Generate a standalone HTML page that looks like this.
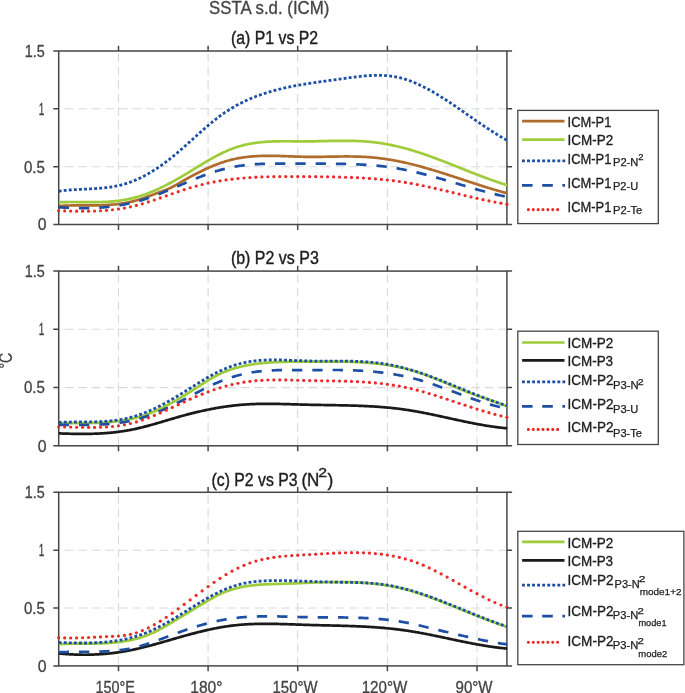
<!DOCTYPE html><html><head><meta charset="utf-8"><style>html,body{margin:0;padding:0;background:#fff;overflow:hidden}</style></head><body><svg width="685" height="693" viewBox="0 0 685 693" style="display:block;will-change:transform;font-family:'Liberation Sans',sans-serif">
<rect width="685" height="693" fill="#fff"/>
<defs><clipPath id="cp0"><rect x="58.7" y="48.0" width="448.7" height="179.5"/></clipPath></defs>
<line x1="118.5" y1="51.0" x2="118.5" y2="224.5" stroke="#d8dada" stroke-width="1.1" stroke-dasharray="8.6 4.9" stroke-dashoffset="-2.5"/>
<line x1="208.1" y1="51.0" x2="208.1" y2="224.5" stroke="#d8dada" stroke-width="1.1" stroke-dasharray="8.6 4.9" stroke-dashoffset="-2.5"/>
<line x1="297.7" y1="51.0" x2="297.7" y2="224.5" stroke="#d8dada" stroke-width="1.1" stroke-dasharray="8.6 4.9" stroke-dashoffset="-2.5"/>
<line x1="387.4" y1="51.0" x2="387.4" y2="224.5" stroke="#d8dada" stroke-width="1.1" stroke-dasharray="8.6 4.9" stroke-dashoffset="-2.5"/>
<line x1="477.0" y1="51.0" x2="477.0" y2="224.5" stroke="#d8dada" stroke-width="1.1" stroke-dasharray="8.6 4.9" stroke-dashoffset="-2.5"/>
<line x1="58.7" y1="166.7" x2="506.9" y2="166.7" stroke="#d8dada" stroke-width="1.1" stroke-dasharray="8.65 4.9" stroke-dashoffset="-6"/>
<line x1="58.7" y1="108.8" x2="506.9" y2="108.8" stroke="#d8dada" stroke-width="1.1" stroke-dasharray="8.65 4.9" stroke-dashoffset="-6"/>
<rect x="58.7" y="51.0" width="448.2" height="173.5" fill="none" stroke="#464646" stroke-width="1.5"/>
<g clip-path="url(#cp0)">
<path d="M58.7,206.00 L59.7,205.93 L60.7,205.86 L61.7,205.80 L62.7,205.75 L63.7,205.70 L64.7,205.65 L65.7,205.61 L66.7,205.57 L67.7,205.54 L68.7,205.51 L69.7,205.49 L70.7,205.46 L71.7,205.45 L72.7,205.43 L73.7,205.42 L74.7,205.40 L75.7,205.40 L76.7,205.39 L77.7,205.38 L78.7,205.38 L79.7,205.38 L80.7,205.38 L81.7,205.38 L82.7,205.38 L83.7,205.38 L84.7,205.38 L85.7,205.38 L86.7,205.38 L87.7,205.38 L88.7,205.38 L89.7,205.38 L90.7,205.38 L91.7,205.38 L92.7,205.37 L93.7,205.36 L94.7,205.36 L95.7,205.34 L96.7,205.33 L97.7,205.32 L98.7,205.30 L99.7,205.27 L100.7,205.25 L101.7,205.22 L102.7,205.19 L103.7,205.15 L104.7,205.11 L105.7,205.06 L106.7,205.01 L107.7,204.96 L108.7,204.90 L109.7,204.83 L110.7,204.76 L111.7,204.69 L112.7,204.61 L113.7,204.52 L114.7,204.42 L115.7,204.32 L116.7,204.21 L117.7,204.10 L118.7,203.97 L119.7,203.84 L120.7,203.70 L121.7,203.56 L122.7,203.40 L123.7,203.24 L124.7,203.07 L125.7,202.89 L126.7,202.70 L127.7,202.50 L128.7,202.29 L129.7,202.08 L130.7,201.85 L131.7,201.61 L132.7,201.36 L133.7,201.10 L134.7,200.84 L135.7,200.56 L136.7,200.27 L137.7,199.98 L138.7,199.67 L139.7,199.36 L140.7,199.04 L141.7,198.72 L142.7,198.38 L143.7,198.04 L144.7,197.70 L145.7,197.35 L146.7,196.99 L147.7,196.63 L148.7,196.27 L149.7,195.90 L150.7,195.53 L151.7,195.15 L152.7,194.77 L153.7,194.39 L154.7,194.01 L155.7,193.63 L156.7,193.24 L157.7,192.86 L158.7,192.50 L159.7,192.14 L160.7,191.78 L161.7,191.42 L162.7,191.06 L163.7,190.70 L164.7,190.33 L165.7,189.95 L166.7,189.55 L167.7,189.14 L168.7,188.71 L169.7,188.26 L170.7,187.78 L171.7,187.29 L172.7,186.78 L173.7,186.25 L174.7,185.70 L175.7,185.15 L176.7,184.58 L177.7,184.01 L178.7,183.43 L179.7,182.85 L180.7,182.27 L181.7,181.69 L182.7,181.11 L183.7,180.53 L184.7,179.96 L185.7,179.39 L186.7,178.83 L187.7,178.27 L188.7,177.71 L189.7,177.16 L190.7,176.62 L191.7,176.07 L192.7,175.54 L193.7,175.01 L194.7,174.48 L195.7,173.96 L196.7,173.44 L197.7,172.93 L198.7,172.43 L199.7,171.93 L200.7,171.43 L201.7,170.94 L202.7,170.46 L203.7,169.99 L204.7,169.52 L205.7,169.05 L206.7,168.60 L207.7,168.15 L208.7,167.70 L209.7,167.27 L210.7,166.84 L211.7,166.42 L212.7,166.00 L213.7,165.59 L214.7,165.19 L215.7,164.80 L216.7,164.42 L217.7,164.04 L218.7,163.67 L219.7,163.31 L220.7,162.96 L221.7,162.62 L222.7,162.28 L223.7,161.96 L224.7,161.64 L225.7,161.33 L226.7,161.03 L227.7,160.74 L228.7,160.46 L229.7,160.19 L230.7,159.92 L231.7,159.67 L232.7,159.43 L233.7,159.20 L234.7,158.97 L235.7,158.76 L236.7,158.55 L237.7,158.36 L238.7,158.17 L239.7,157.99 L240.7,157.82 L241.7,157.66 L242.7,157.51 L243.7,157.36 L244.7,157.22 L245.7,157.09 L246.7,156.97 L247.7,156.85 L248.7,156.75 L249.7,156.64 L250.7,156.55 L251.7,156.46 L252.7,156.38 L253.7,156.30 L254.7,156.24 L255.7,156.17 L256.7,156.12 L257.7,156.06 L258.7,156.02 L259.7,155.98 L260.7,155.94 L261.7,155.91 L262.7,155.88 L263.7,155.86 L264.7,155.84 L265.7,155.83 L266.7,155.82 L267.7,155.82 L268.7,155.82 L269.7,155.82 L270.7,155.82 L271.7,155.83 L272.7,155.84 L273.7,155.86 L274.7,155.88 L275.7,155.90 L276.7,155.92 L277.7,155.94 L278.7,155.97 L279.7,156.00 L280.7,156.03 L281.7,156.06 L282.7,156.09 L283.7,156.13 L284.7,156.16 L285.7,156.20 L286.7,156.24 L287.7,156.27 L288.7,156.31 L289.7,156.35 L290.7,156.39 L291.7,156.42 L292.7,156.46 L293.7,156.50 L294.7,156.53 L295.7,156.57 L296.7,156.60 L297.7,156.63 L298.7,156.67 L299.7,156.70 L300.7,156.72 L301.7,156.75 L302.7,156.77 L303.7,156.80 L304.7,156.82 L305.7,156.83 L306.7,156.85 L307.7,156.86 L308.7,156.87 L309.7,156.87 L310.7,156.88 L311.7,156.88 L312.7,156.88 L313.7,156.88 L314.7,156.87 L315.7,156.87 L316.7,156.86 L317.7,156.85 L318.7,156.84 L319.7,156.83 L320.7,156.82 L321.7,156.80 L322.7,156.79 L323.7,156.77 L324.7,156.76 L325.7,156.74 L326.7,156.72 L327.7,156.71 L328.7,156.69 L329.7,156.67 L330.7,156.65 L331.7,156.64 L332.7,156.62 L333.7,156.60 L334.7,156.58 L335.7,156.57 L336.7,156.55 L337.7,156.54 L338.7,156.53 L339.7,156.51 L340.7,156.50 L341.7,156.49 L342.7,156.48 L343.7,156.48 L344.7,156.47 L345.7,156.47 L346.7,156.47 L347.7,156.47 L348.7,156.47 L349.7,156.48 L350.7,156.48 L351.7,156.49 L352.7,156.51 L353.7,156.52 L354.7,156.54 L355.7,156.56 L356.7,156.58 L357.7,156.61 L358.7,156.64 L359.7,156.68 L360.7,156.71 L361.7,156.76 L362.7,156.80 L363.7,156.85 L364.7,156.90 L365.7,156.96 L366.7,157.02 L367.7,157.09 L368.7,157.16 L369.7,157.23 L370.7,157.31 L371.7,157.40 L372.7,157.48 L373.7,157.58 L374.7,157.68 L375.7,157.78 L376.7,157.88 L377.7,158.00 L378.7,158.11 L379.7,158.23 L380.7,158.36 L381.7,158.48 L382.7,158.62 L383.7,158.76 L384.7,158.90 L385.7,159.04 L386.7,159.19 L387.7,159.35 L388.7,159.51 L389.7,159.67 L390.7,159.83 L391.7,160.00 L392.7,160.18 L393.7,160.36 L394.7,160.54 L395.7,160.73 L396.7,160.92 L397.7,161.11 L398.7,161.31 L399.7,161.51 L400.7,161.72 L401.7,161.93 L402.7,162.14 L403.7,162.36 L404.7,162.58 L405.7,162.80 L406.7,163.03 L407.7,163.26 L408.7,163.49 L409.7,163.73 L410.7,163.98 L411.7,164.22 L412.7,164.47 L413.7,164.72 L414.7,164.97 L415.7,165.23 L416.7,165.49 L417.7,165.76 L418.7,166.02 L419.7,166.29 L420.7,166.57 L421.7,166.84 L422.7,167.12 L423.7,167.40 L424.7,167.68 L425.7,167.97 L426.7,168.25 L427.7,168.54 L428.7,168.83 L429.7,169.13 L430.7,169.42 L431.7,169.72 L432.7,170.02 L433.7,170.33 L434.7,170.63 L435.7,170.94 L436.7,171.24 L437.7,171.55 L438.7,171.86 L439.7,172.17 L440.7,172.49 L441.7,172.80 L442.7,173.12 L443.7,173.44 L444.7,173.76 L445.7,174.08 L446.7,174.40 L447.7,174.72 L448.7,175.04 L449.7,175.36 L450.7,175.69 L451.7,176.01 L452.7,176.34 L453.7,176.67 L454.7,176.99 L455.7,177.32 L456.7,177.65 L457.7,177.98 L458.7,178.31 L459.7,178.64 L460.7,178.96 L461.7,179.29 L462.7,179.62 L463.7,179.95 L464.7,180.28 L465.7,180.61 L466.7,180.94 L467.7,181.27 L468.7,181.59 L469.7,181.92 L470.7,182.25 L471.7,182.57 L472.7,182.90 L473.7,183.23 L474.7,183.55 L475.7,183.87 L476.7,184.20 L477.7,184.52 L478.7,184.84 L479.7,185.16 L480.7,185.48 L481.7,185.79 L482.7,186.11 L483.7,186.42 L484.7,186.74 L485.7,187.05 L486.7,187.36 L487.7,187.67 L488.7,187.97 L489.7,188.28 L490.7,188.58 L491.7,188.88 L492.7,189.18 L493.7,189.48 L494.7,189.78 L495.7,190.07 L496.7,190.36 L497.7,190.65 L498.7,190.94 L499.7,191.22 L500.7,191.50 L501.7,191.78 L502.7,192.06 L503.7,192.33 L504.7,192.60 L505.7,192.87 L506.7,193.14 L507.5,193.35" fill="none" stroke="#ae6d2c" stroke-width="2.7" stroke-linejoin="round"/>
<path d="M58.7,202.25 L59.7,202.21 L60.7,202.17 L61.7,202.14 L62.7,202.11 L63.7,202.09 L64.7,202.07 L65.7,202.05 L66.7,202.04 L67.7,202.03 L68.7,202.02 L69.7,202.01 L70.7,202.01 L71.7,202.01 L72.7,202.01 L73.7,202.01 L74.7,202.02 L75.7,202.02 L76.7,202.03 L77.7,202.04 L78.7,202.05 L79.7,202.05 L80.7,202.06 L81.7,202.07 L82.7,202.08 L83.7,202.09 L84.7,202.10 L85.7,202.11 L86.7,202.12 L87.7,202.12 L88.7,202.13 L89.7,202.13 L90.7,202.13 L91.7,202.13 L92.7,202.13 L93.7,202.13 L94.7,202.12 L95.7,202.11 L96.7,202.10 L97.7,202.09 L98.7,202.07 L99.7,202.05 L100.7,202.02 L101.7,202.00 L102.7,201.96 L103.7,201.93 L104.7,201.89 L105.7,201.84 L106.7,201.79 L107.7,201.74 L108.7,201.68 L109.7,201.61 L110.7,201.54 L111.7,201.46 L112.7,201.38 L113.7,201.29 L114.7,201.19 L115.7,201.09 L116.7,200.98 L117.7,200.87 L118.7,200.75 L119.7,200.62 L120.7,200.48 L121.7,200.33 L122.7,200.18 L123.7,200.02 L124.7,199.85 L125.7,199.67 L126.7,199.49 L127.7,199.29 L128.7,199.08 L129.7,198.87 L130.7,198.65 L131.7,198.41 L132.7,198.17 L133.7,197.92 L134.7,197.66 L135.7,197.38 L136.7,197.10 L137.7,196.81 L138.7,196.51 L139.7,196.20 L140.7,195.88 L141.7,195.56 L142.7,195.22 L143.7,194.88 L144.7,194.52 L145.7,194.16 L146.7,193.79 L147.7,193.41 L148.7,193.03 L149.7,192.63 L150.7,192.23 L151.7,191.82 L152.7,191.40 L153.7,190.98 L154.7,190.55 L155.7,190.11 L156.7,189.66 L157.7,189.21 L158.7,188.75 L159.7,188.28 L160.7,187.81 L161.7,187.33 L162.7,186.84 L163.7,186.35 L164.7,185.85 L165.7,185.34 L166.7,184.83 L167.7,184.32 L168.7,183.79 L169.7,183.27 L170.7,182.73 L171.7,182.19 L172.7,181.65 L173.7,181.10 L174.7,180.55 L175.7,179.99 L176.7,179.42 L177.7,178.86 L178.7,178.28 L179.7,177.71 L180.7,177.13 L181.7,176.54 L182.7,175.95 L183.7,175.36 L184.7,174.76 L185.7,174.16 L186.7,173.56 L187.7,172.95 L188.7,172.35 L189.7,171.74 L190.7,171.13 L191.7,170.52 L192.7,169.91 L193.7,169.29 L194.7,168.68 L195.7,168.07 L196.7,167.46 L197.7,166.85 L198.7,166.24 L199.7,165.63 L200.7,165.02 L201.7,164.42 L202.7,163.81 L203.7,163.21 L204.7,162.62 L205.7,162.03 L206.7,161.44 L207.7,160.85 L208.7,160.27 L209.7,159.70 L210.7,159.13 L211.7,158.56 L212.7,158.00 L213.7,157.45 L214.7,156.90 L215.7,156.36 L216.7,155.83 L217.7,155.30 L218.7,154.79 L219.7,154.28 L220.7,153.78 L221.7,153.28 L222.7,152.80 L223.7,152.32 L224.7,151.86 L225.7,151.40 L226.7,150.96 L227.7,150.53 L228.7,150.10 L229.7,149.69 L230.7,149.29 L231.7,148.90 L232.7,148.53 L233.7,148.17 L234.7,147.81 L235.7,147.48 L236.7,147.15 L237.7,146.83 L238.7,146.53 L239.7,146.23 L240.7,145.95 L241.7,145.68 L242.7,145.41 L243.7,145.16 L244.7,144.92 L245.7,144.69 L246.7,144.47 L247.7,144.25 L248.7,144.05 L249.7,143.86 L250.7,143.67 L251.7,143.50 L252.7,143.33 L253.7,143.17 L254.7,143.02 L255.7,142.87 L256.7,142.74 L257.7,142.61 L258.7,142.49 L259.7,142.37 L260.7,142.26 L261.7,142.16 L262.7,142.07 L263.7,141.98 L264.7,141.90 L265.7,141.82 L266.7,141.75 L267.7,141.69 L268.7,141.63 L269.7,141.58 L270.7,141.53 L271.7,141.48 L272.7,141.44 L273.7,141.41 L274.7,141.38 L275.7,141.35 L276.7,141.33 L277.7,141.31 L278.7,141.29 L279.7,141.28 L280.7,141.27 L281.7,141.26 L282.7,141.25 L283.7,141.25 L284.7,141.25 L285.7,141.25 L286.7,141.25 L287.7,141.26 L288.7,141.27 L289.7,141.27 L290.7,141.28 L291.7,141.29 L292.7,141.30 L293.7,141.31 L294.7,141.32 L295.7,141.33 L296.7,141.34 L297.7,141.35 L298.7,141.36 L299.7,141.37 L300.7,141.37 L301.7,141.38 L302.7,141.39 L303.7,141.39 L304.7,141.39 L305.7,141.39 L306.7,141.39 L307.7,141.38 L308.7,141.37 L309.7,141.37 L310.7,141.36 L311.7,141.34 L312.7,141.33 L313.7,141.31 L314.7,141.30 L315.7,141.28 L316.7,141.26 L317.7,141.24 L318.7,141.22 L319.7,141.20 L320.7,141.18 L321.7,141.16 L322.7,141.13 L323.7,141.11 L324.7,141.09 L325.7,141.06 L326.7,141.04 L327.7,141.02 L328.7,141.00 L329.7,140.97 L330.7,140.95 L331.7,140.93 L332.7,140.91 L333.7,140.89 L334.7,140.88 L335.7,140.86 L336.7,140.84 L337.7,140.83 L338.7,140.82 L339.7,140.81 L340.7,140.80 L341.7,140.79 L342.7,140.79 L343.7,140.78 L344.7,140.78 L345.7,140.78 L346.7,140.79 L347.7,140.79 L348.7,140.80 L349.7,140.81 L350.7,140.83 L351.7,140.85 L352.7,140.87 L353.7,140.89 L354.7,140.92 L355.7,140.95 L356.7,140.99 L357.7,141.02 L358.7,141.07 L359.7,141.11 L360.7,141.16 L361.7,141.22 L362.7,141.28 L363.7,141.34 L364.7,141.41 L365.7,141.48 L366.7,141.56 L367.7,141.64 L368.7,141.73 L369.7,141.82 L370.7,141.92 L371.7,142.02 L372.7,142.13 L373.7,142.24 L374.7,142.36 L375.7,142.49 L376.7,142.61 L377.7,142.75 L378.7,142.89 L379.7,143.03 L380.7,143.18 L381.7,143.33 L382.7,143.49 L383.7,143.66 L384.7,143.83 L385.7,144.00 L386.7,144.18 L387.7,144.36 L388.7,144.55 L389.7,144.74 L390.7,144.94 L391.7,145.15 L392.7,145.35 L393.7,145.57 L394.7,145.78 L395.7,146.01 L396.7,146.23 L397.7,146.47 L398.7,146.70 L399.7,146.95 L400.7,147.19 L401.7,147.44 L402.7,147.70 L403.7,147.96 L404.7,148.22 L405.7,148.49 L406.7,148.77 L407.7,149.05 L408.7,149.33 L409.7,149.62 L410.7,149.91 L411.7,150.21 L412.7,150.51 L413.7,150.81 L414.7,151.12 L415.7,151.44 L416.7,151.75 L417.7,152.07 L418.7,152.40 L419.7,152.72 L420.7,153.06 L421.7,153.39 L422.7,153.73 L423.7,154.07 L424.7,154.41 L425.7,154.76 L426.7,155.11 L427.7,155.46 L428.7,155.82 L429.7,156.18 L430.7,156.54 L431.7,156.90 L432.7,157.27 L433.7,157.64 L434.7,158.01 L435.7,158.38 L436.7,158.76 L437.7,159.13 L438.7,159.51 L439.7,159.89 L440.7,160.28 L441.7,160.66 L442.7,161.05 L443.7,161.43 L444.7,161.82 L445.7,162.21 L446.7,162.60 L447.7,163.00 L448.7,163.39 L449.7,163.78 L450.7,164.18 L451.7,164.57 L452.7,164.97 L453.7,165.37 L454.7,165.77 L455.7,166.16 L456.7,166.56 L457.7,166.96 L458.7,167.36 L459.7,167.76 L460.7,168.16 L461.7,168.56 L462.7,168.96 L463.7,169.35 L464.7,169.75 L465.7,170.15 L466.7,170.55 L467.7,170.94 L468.7,171.34 L469.7,171.73 L470.7,172.13 L471.7,172.52 L472.7,172.91 L473.7,173.30 L474.7,173.69 L475.7,174.08 L476.7,174.47 L477.7,174.85 L478.7,175.24 L479.7,175.62 L480.7,176.00 L481.7,176.38 L482.7,176.75 L483.7,177.13 L484.7,177.50 L485.7,177.87 L486.7,178.24 L487.7,178.60 L488.7,178.97 L489.7,179.33 L490.7,179.68 L491.7,180.04 L492.7,180.39 L493.7,180.74 L494.7,181.09 L495.7,181.43 L496.7,181.77 L497.7,182.11 L498.7,182.44 L499.7,182.77 L500.7,183.10 L501.7,183.42 L502.7,183.74 L503.7,184.05 L504.7,184.36 L505.7,184.67 L506.7,184.98 L507.5,185.21" fill="none" stroke="#9fcc3a" stroke-width="2.7" stroke-linejoin="round"/>
<path d="M58.7,191.26 L59.7,191.12 L60.7,190.98 L61.7,190.84 L62.7,190.72 L63.7,190.60 L64.7,190.48 L65.7,190.38 L66.7,190.28 L67.7,190.18 L68.7,190.09 L69.7,190.01 L70.7,189.93 L71.7,189.85 L72.7,189.78 L73.7,189.71 L74.7,189.65 L75.7,189.59 L76.7,189.53 L77.7,189.48 L78.7,189.42 L79.7,189.37 L80.7,189.32 L81.7,189.27 L82.7,189.23 L83.7,189.18 L84.7,189.13 L85.7,189.09 L86.7,189.04 L87.7,188.99 L88.7,188.95 L89.7,188.90 L90.7,188.85 L91.7,188.79 L92.7,188.74 L93.7,188.68 L94.7,188.62 L95.7,188.56 L96.7,188.49 L97.7,188.42 L98.7,188.35 L99.7,188.27 L100.7,188.18 L101.7,188.09 L102.7,188.00 L103.7,187.90 L104.7,187.80 L105.7,187.69 L106.7,187.57 L107.7,187.44 L108.7,187.31 L109.7,187.17 L110.7,187.02 L111.7,186.87 L112.7,186.71 L113.7,186.53 L114.7,186.35 L115.7,186.16 L116.7,185.96 L117.7,185.75 L118.7,185.53 L119.7,185.30 L120.7,185.06 L121.7,184.80 L122.7,184.54 L123.7,184.26 L124.7,183.97 L125.7,183.67 L126.7,183.36 L127.7,183.03 L128.7,182.69 L129.7,182.34 L130.7,181.98 L131.7,181.60 L132.7,181.21 L133.7,180.81 L134.7,180.40 L135.7,179.97 L136.7,179.54 L137.7,179.09 L138.7,178.63 L139.7,178.16 L140.7,177.68 L141.7,177.18 L142.7,176.68 L143.7,176.16 L144.7,175.64 L145.7,175.10 L146.7,174.55 L147.7,173.99 L148.7,173.42 L149.7,172.83 L150.7,172.24 L151.7,171.64 L152.7,171.02 L153.7,170.40 L154.7,169.76 L155.7,169.12 L156.7,168.46 L157.7,167.80 L158.7,167.12 L159.7,166.44 L160.7,165.74 L161.7,165.03 L162.7,164.32 L163.7,163.60 L164.7,162.86 L165.7,162.12 L166.7,161.36 L167.7,160.60 L168.7,159.83 L169.7,159.05 L170.7,158.26 L171.7,157.46 L172.7,156.65 L173.7,155.84 L174.7,155.01 L175.7,154.18 L176.7,153.34 L177.7,152.49 L178.7,151.63 L179.7,150.77 L180.7,149.90 L181.7,149.03 L182.7,148.15 L183.7,147.26 L184.7,146.38 L185.7,145.49 L186.7,144.59 L187.7,143.69 L188.7,142.79 L189.7,141.89 L190.7,140.99 L191.7,140.08 L192.7,139.18 L193.7,138.28 L194.7,137.37 L195.7,136.47 L196.7,135.57 L197.7,134.67 L198.7,133.77 L199.7,132.87 L200.7,131.98 L201.7,131.09 L202.7,130.21 L203.7,129.33 L204.7,128.45 L205.7,127.58 L206.7,126.72 L207.7,125.86 L208.7,125.01 L209.7,124.17 L210.7,123.33 L211.7,122.50 L212.7,121.69 L213.7,120.88 L214.7,120.08 L215.7,119.29 L216.7,118.51 L217.7,117.74 L218.7,116.98 L219.7,116.24 L220.7,115.50 L221.7,114.78 L222.7,114.07 L223.7,113.38 L224.7,112.69 L225.7,112.02 L226.7,111.36 L227.7,110.71 L228.7,110.07 L229.7,109.44 L230.7,108.82 L231.7,108.21 L232.7,107.62 L233.7,107.03 L234.7,106.46 L235.7,105.89 L236.7,105.34 L237.7,104.79 L238.7,104.26 L239.7,103.73 L240.7,103.22 L241.7,102.71 L242.7,102.22 L243.7,101.73 L244.7,101.25 L245.7,100.78 L246.7,100.32 L247.7,99.87 L248.7,99.42 L249.7,98.99 L250.7,98.56 L251.7,98.14 L252.7,97.73 L253.7,97.33 L254.7,96.93 L255.7,96.55 L256.7,96.16 L257.7,95.79 L258.7,95.42 L259.7,95.07 L260.7,94.71 L261.7,94.37 L262.7,94.03 L263.7,93.69 L264.7,93.37 L265.7,93.05 L266.7,92.73 L267.7,92.43 L268.7,92.12 L269.7,91.83 L270.7,91.53 L271.7,91.25 L272.7,90.97 L273.7,90.69 L274.7,90.42 L275.7,90.15 L276.7,89.89 L277.7,89.64 L278.7,89.38 L279.7,89.13 L280.7,88.89 L281.7,88.65 L282.7,88.42 L283.7,88.19 L284.7,87.96 L285.7,87.74 L286.7,87.52 L287.7,87.30 L288.7,87.09 L289.7,86.88 L290.7,86.68 L291.7,86.48 L292.7,86.28 L293.7,86.08 L294.7,85.89 L295.7,85.70 L296.7,85.52 L297.7,85.33 L298.7,85.15 L299.7,84.98 L300.7,84.80 L301.7,84.63 L302.7,84.46 L303.7,84.29 L304.7,84.13 L305.7,83.96 L306.7,83.80 L307.7,83.64 L308.7,83.49 L309.7,83.33 L310.7,83.18 L311.7,83.03 L312.7,82.88 L313.7,82.73 L314.7,82.58 L315.7,82.43 L316.7,82.29 L317.7,82.15 L318.7,82.00 L319.7,81.86 L320.7,81.72 L321.7,81.58 L322.7,81.44 L323.7,81.30 L324.7,81.16 L325.7,81.03 L326.7,80.89 L327.7,80.75 L328.7,80.62 L329.7,80.48 L330.7,80.34 L331.7,80.20 L332.7,80.07 L333.7,79.93 L334.7,79.79 L335.7,79.65 L336.7,79.51 L337.7,79.37 L338.7,79.23 L339.7,79.09 L340.7,78.95 L341.7,78.81 L342.7,78.67 L343.7,78.52 L344.7,78.38 L345.7,78.24 L346.7,78.10 L347.7,77.96 L348.7,77.82 L349.7,77.68 L350.7,77.54 L351.7,77.41 L352.7,77.28 L353.7,77.14 L354.7,77.02 L355.7,76.89 L356.7,76.77 L357.7,76.65 L358.7,76.54 L359.7,76.42 L360.7,76.32 L361.7,76.21 L362.7,76.11 L363.7,76.02 L364.7,75.93 L365.7,75.85 L366.7,75.77 L367.7,75.69 L368.7,75.63 L369.7,75.56 L370.7,75.51 L371.7,75.46 L372.7,75.42 L373.7,75.38 L374.7,75.36 L375.7,75.34 L376.7,75.33 L377.7,75.32 L378.7,75.33 L379.7,75.34 L380.7,75.36 L381.7,75.39 L382.7,75.43 L383.7,75.48 L384.7,75.54 L385.7,75.60 L386.7,75.68 L387.7,75.77 L388.7,75.87 L389.7,75.98 L390.7,76.10 L391.7,76.24 L392.7,76.38 L393.7,76.54 L394.7,76.70 L395.7,76.89 L396.7,77.08 L397.7,77.28 L398.7,77.50 L399.7,77.73 L400.7,77.98 L401.7,78.24 L402.7,78.51 L403.7,78.79 L404.7,79.09 L405.7,79.40 L406.7,79.72 L407.7,80.06 L408.7,80.40 L409.7,80.76 L410.7,81.13 L411.7,81.51 L412.7,81.90 L413.7,82.31 L414.7,82.72 L415.7,83.14 L416.7,83.58 L417.7,84.02 L418.7,84.48 L419.7,84.94 L420.7,85.41 L421.7,85.90 L422.7,86.39 L423.7,86.89 L424.7,87.40 L425.7,87.92 L426.7,88.45 L427.7,88.98 L428.7,89.52 L429.7,90.07 L430.7,90.63 L431.7,91.20 L432.7,91.77 L433.7,92.35 L434.7,92.94 L435.7,93.53 L436.7,94.13 L437.7,94.73 L438.7,95.35 L439.7,95.96 L440.7,96.59 L441.7,97.21 L442.7,97.85 L443.7,98.49 L444.7,99.13 L445.7,99.78 L446.7,100.43 L447.7,101.09 L448.7,101.75 L449.7,102.41 L450.7,103.08 L451.7,103.75 L452.7,104.43 L453.7,105.10 L454.7,105.78 L455.7,106.47 L456.7,107.15 L457.7,107.84 L458.7,108.53 L459.7,109.22 L460.7,109.92 L461.7,110.61 L462.7,111.31 L463.7,112.00 L464.7,112.70 L465.7,113.40 L466.7,114.10 L467.7,114.80 L468.7,115.50 L469.7,116.20 L470.7,116.89 L471.7,117.59 L472.7,118.29 L473.7,118.99 L474.7,119.68 L475.7,120.38 L476.7,121.07 L477.7,121.76 L478.7,122.45 L479.7,123.14 L480.7,123.82 L481.7,124.50 L482.7,125.18 L483.7,125.86 L484.7,126.53 L485.7,127.20 L486.7,127.87 L487.7,128.53 L488.7,129.19 L489.7,129.84 L490.7,130.49 L491.7,131.14 L492.7,131.78 L493.7,132.42 L494.7,133.05 L495.7,133.67 L496.7,134.29 L497.7,134.91 L498.7,135.52 L499.7,136.12 L500.7,136.72 L501.7,137.31 L502.7,137.89 L503.7,138.47 L504.7,139.04 L505.7,139.60 L506.7,140.15 L507.5,140.59" fill="none" stroke="#1d4fa4" stroke-width="2.8" stroke-dasharray="2.9 2.185"/>
<path d="M58.7,207.20 L59.7,207.28 L60.7,207.35 L61.7,207.43 L62.7,207.50 L63.7,207.56 L64.7,207.62 L65.7,207.68 L66.7,207.74 L67.7,207.80 L68.7,207.85 L69.7,207.89 L70.7,207.94 L71.7,207.98 L72.7,208.02 L73.7,208.05 L74.7,208.08 L75.7,208.11 L76.7,208.14 L77.7,208.16 L78.7,208.17 L79.7,208.19 L80.7,208.20 L81.7,208.20 L82.7,208.21 L83.7,208.21 L84.7,208.20 L85.7,208.19 L86.7,208.18 L87.7,208.16 L88.7,208.14 L89.7,208.12 L90.7,208.09 L91.7,208.06 L92.7,208.02 L93.7,207.98 L94.7,207.93 L95.7,207.88 L96.7,207.83 L97.7,207.77 L98.7,207.71 L99.7,207.64 L100.7,207.57 L101.7,207.49 L102.7,207.41 L103.7,207.32 L104.7,207.23 L105.7,207.14 L106.7,207.04 L107.7,206.93 L108.7,206.82 L109.7,206.70 L110.7,206.58 L111.7,206.46 L112.7,206.33 L113.7,206.19 L114.7,206.05 L115.7,205.91 L116.7,205.76 L117.7,205.60 L118.7,205.44 L119.7,205.27 L120.7,205.10 L121.7,204.92 L122.7,204.74 L123.7,204.55 L124.7,204.35 L125.7,204.15 L126.7,203.95 L127.7,203.74 L128.7,203.52 L129.7,203.29 L130.7,203.07 L131.7,202.83 L132.7,202.59 L133.7,202.34 L134.7,202.09 L135.7,201.83 L136.7,201.56 L137.7,201.29 L138.7,201.01 L139.7,200.73 L140.7,200.44 L141.7,200.14 L142.7,199.84 L143.7,199.53 L144.7,199.21 L145.7,198.89 L146.7,198.56 L147.7,198.22 L148.7,197.88 L149.7,197.53 L150.7,197.18 L151.7,196.82 L152.7,196.46 L153.7,196.09 L154.7,195.72 L155.7,195.35 L156.7,194.96 L157.7,194.58 L158.7,194.19 L159.7,193.80 L160.7,193.40 L161.7,193.00 L162.7,192.60 L163.7,192.19 L164.7,191.78 L165.7,191.37 L166.7,190.95 L167.7,190.54 L168.7,190.12 L169.7,189.70 L170.7,189.27 L171.7,188.85 L172.7,188.42 L173.7,187.99 L174.7,187.57 L175.7,187.14 L176.7,186.71 L177.7,186.28 L178.7,185.84 L179.7,185.41 L180.7,184.98 L181.7,184.55 L182.7,184.12 L183.7,183.69 L184.7,183.26 L185.7,182.83 L186.7,182.41 L187.7,181.98 L188.7,181.56 L189.7,181.14 L190.7,180.71 L191.7,180.30 L192.7,179.88 L193.7,179.47 L194.7,179.05 L195.7,178.65 L196.7,178.24 L197.7,177.84 L198.7,177.44 L199.7,177.04 L200.7,176.65 L201.7,176.26 L202.7,175.88 L203.7,175.50 L204.7,175.12 L205.7,174.75 L206.7,174.39 L207.7,174.03 L208.7,173.67 L209.7,173.32 L210.7,172.97 L211.7,172.64 L212.7,172.30 L213.7,171.97 L214.7,171.65 L215.7,171.34 L216.7,171.03 L217.7,170.73 L218.7,170.44 L219.7,170.15 L220.7,169.87 L221.7,169.60 L222.7,169.33 L223.7,169.07 L224.7,168.82 L225.7,168.58 L226.7,168.34 L227.7,168.11 L228.7,167.89 L229.7,167.68 L230.7,167.47 L231.7,167.26 L232.7,167.07 L233.7,166.88 L234.7,166.70 L235.7,166.52 L236.7,166.35 L237.7,166.18 L238.7,166.03 L239.7,165.87 L240.7,165.73 L241.7,165.59 L242.7,165.45 L243.7,165.32 L244.7,165.20 L245.7,165.08 L246.7,164.97 L247.7,164.86 L248.7,164.76 L249.7,164.67 L250.7,164.58 L251.7,164.49 L252.7,164.41 L253.7,164.34 L254.7,164.27 L255.7,164.20 L256.7,164.14 L257.7,164.09 L258.7,164.03 L259.7,163.99 L260.7,163.94 L261.7,163.90 L262.7,163.87 L263.7,163.84 L264.7,163.81 L265.7,163.78 L266.7,163.76 L267.7,163.74 L268.7,163.72 L269.7,163.71 L270.7,163.69 L271.7,163.68 L272.7,163.67 L273.7,163.67 L274.7,163.66 L275.7,163.65 L276.7,163.65 L277.7,163.65 L278.7,163.64 L279.7,163.64 L280.7,163.64 L281.7,163.64 L282.7,163.64 L283.7,163.63 L284.7,163.63 L285.7,163.63 L286.7,163.62 L287.7,163.62 L288.7,163.62 L289.7,163.62 L290.7,163.61 L291.7,163.61 L292.7,163.61 L293.7,163.60 L294.7,163.60 L295.7,163.60 L296.7,163.59 L297.7,163.59 L298.7,163.59 L299.7,163.58 L300.7,163.58 L301.7,163.58 L302.7,163.58 L303.7,163.58 L304.7,163.57 L305.7,163.57 L306.7,163.57 L307.7,163.57 L308.7,163.57 L309.7,163.57 L310.7,163.57 L311.7,163.57 L312.7,163.57 L313.7,163.57 L314.7,163.58 L315.7,163.58 L316.7,163.58 L317.7,163.59 L318.7,163.59 L319.7,163.59 L320.7,163.60 L321.7,163.61 L322.7,163.61 L323.7,163.62 L324.7,163.63 L325.7,163.64 L326.7,163.65 L327.7,163.66 L328.7,163.67 L329.7,163.68 L330.7,163.69 L331.7,163.71 L332.7,163.72 L333.7,163.74 L334.7,163.75 L335.7,163.77 L336.7,163.79 L337.7,163.81 L338.7,163.83 L339.7,163.85 L340.7,163.87 L341.7,163.89 L342.7,163.92 L343.7,163.94 L344.7,163.97 L345.7,164.00 L346.7,164.03 L347.7,164.06 L348.7,164.09 L349.7,164.12 L350.7,164.15 L351.7,164.19 L352.7,164.22 L353.7,164.26 L354.7,164.30 L355.7,164.34 L356.7,164.38 L357.7,164.43 L358.7,164.47 L359.7,164.52 L360.7,164.57 L361.7,164.62 L362.7,164.67 L363.7,164.72 L364.7,164.78 L365.7,164.84 L366.7,164.90 L367.7,164.96 L368.7,165.03 L369.7,165.10 L370.7,165.17 L371.7,165.24 L372.7,165.32 L373.7,165.40 L374.7,165.48 L375.7,165.57 L376.7,165.66 L377.7,165.75 L378.7,165.85 L379.7,165.95 L380.7,166.05 L381.7,166.16 L382.7,166.27 L383.7,166.38 L384.7,166.50 L385.7,166.63 L386.7,166.75 L387.7,166.89 L388.7,167.02 L389.7,167.16 L390.7,167.31 L391.7,167.46 L392.7,167.61 L393.7,167.77 L394.7,167.93 L395.7,168.10 L396.7,168.27 L397.7,168.44 L398.7,168.62 L399.7,168.80 L400.7,168.98 L401.7,169.17 L402.7,169.36 L403.7,169.56 L404.7,169.76 L405.7,169.96 L406.7,170.16 L407.7,170.37 L408.7,170.58 L409.7,170.80 L410.7,171.02 L411.7,171.24 L412.7,171.47 L413.7,171.69 L414.7,171.92 L415.7,172.16 L416.7,172.39 L417.7,172.63 L418.7,172.87 L419.7,173.12 L420.7,173.37 L421.7,173.62 L422.7,173.87 L423.7,174.12 L424.7,174.38 L425.7,174.64 L426.7,174.90 L427.7,175.16 L428.7,175.43 L429.7,175.70 L430.7,175.97 L431.7,176.24 L432.7,176.52 L433.7,176.79 L434.7,177.07 L435.7,177.35 L436.7,177.63 L437.7,177.91 L438.7,178.20 L439.7,178.48 L440.7,178.77 L441.7,179.06 L442.7,179.35 L443.7,179.64 L444.7,179.93 L445.7,180.22 L446.7,180.52 L447.7,180.81 L448.7,181.10 L449.7,181.40 L450.7,181.70 L451.7,181.99 L452.7,182.29 L453.7,182.59 L454.7,182.89 L455.7,183.19 L456.7,183.48 L457.7,183.78 L458.7,184.08 L459.7,184.38 L460.7,184.68 L461.7,184.98 L462.7,185.27 L463.7,185.57 L464.7,185.87 L465.7,186.17 L466.7,186.46 L467.7,186.76 L468.7,187.05 L469.7,187.35 L470.7,187.64 L471.7,187.93 L472.7,188.22 L473.7,188.51 L474.7,188.80 L475.7,189.09 L476.7,189.37 L477.7,189.66 L478.7,189.94 L479.7,190.22 L480.7,190.50 L481.7,190.77 L482.7,191.05 L483.7,191.32 L484.7,191.59 L485.7,191.86 L486.7,192.12 L487.7,192.38 L488.7,192.64 L489.7,192.90 L490.7,193.16 L491.7,193.41 L492.7,193.65 L493.7,193.90 L494.7,194.14 L495.7,194.38 L496.7,194.61 L497.7,194.85 L498.7,195.07 L499.7,195.30 L500.7,195.52 L501.7,195.73 L502.7,195.95 L503.7,196.15 L504.7,196.36 L505.7,196.56 L506.7,196.75 L507.5,196.90" fill="none" stroke="#1d4fa4" stroke-width="2.7" stroke-dasharray="10.3 10.0"/>
</g>
<g fill="#ea2a26"><circle cx="58.70" cy="210.77" r="1.6"/><circle cx="64.68" cy="210.94" r="1.6"/><circle cx="70.65" cy="211.08" r="1.6"/><circle cx="76.63" cy="211.18" r="1.6"/><circle cx="82.60" cy="211.22" r="1.6"/><circle cx="88.58" cy="211.17" r="1.6"/><circle cx="94.56" cy="211.03" r="1.6"/><circle cx="100.53" cy="210.76" r="1.6"/><circle cx="106.51" cy="210.35" r="1.6"/><circle cx="112.48" cy="209.77" r="1.6"/><circle cx="118.46" cy="209.01" r="1.6"/><circle cx="124.44" cy="208.05" r="1.6"/><circle cx="130.41" cy="206.86" r="1.6"/><circle cx="136.39" cy="205.43" r="1.6"/><circle cx="142.36" cy="203.79" r="1.6"/><circle cx="148.34" cy="201.96" r="1.6"/><circle cx="154.32" cy="200.00" r="1.6"/><circle cx="160.29" cy="197.95" r="1.6"/><circle cx="166.27" cy="195.85" r="1.6"/><circle cx="172.24" cy="193.74" r="1.6"/><circle cx="178.22" cy="191.66" r="1.6"/><circle cx="184.20" cy="189.65" r="1.6"/><circle cx="190.17" cy="187.77" r="1.6"/><circle cx="196.15" cy="186.04" r="1.6"/><circle cx="202.12" cy="184.49" r="1.6"/><circle cx="208.10" cy="183.12" r="1.6"/><circle cx="214.08" cy="181.91" r="1.6"/><circle cx="220.05" cy="180.86" r="1.6"/><circle cx="226.03" cy="179.95" r="1.6"/><circle cx="232.00" cy="179.17" r="1.6"/><circle cx="237.98" cy="178.52" r="1.6"/><circle cx="243.96" cy="177.98" r="1.6"/><circle cx="249.93" cy="177.55" r="1.6"/><circle cx="255.91" cy="177.21" r="1.6"/><circle cx="261.88" cy="176.95" r="1.6"/><circle cx="267.86" cy="176.76" r="1.6"/><circle cx="273.84" cy="176.64" r="1.6"/><circle cx="279.81" cy="176.57" r="1.6"/><circle cx="285.79" cy="176.54" r="1.6"/><circle cx="291.76" cy="176.55" r="1.6"/><circle cx="297.74" cy="176.58" r="1.6"/><circle cx="303.72" cy="176.62" r="1.6"/><circle cx="309.69" cy="176.66" r="1.6"/><circle cx="315.67" cy="176.71" r="1.6"/><circle cx="321.64" cy="176.77" r="1.6"/><circle cx="327.62" cy="176.84" r="1.6"/><circle cx="333.60" cy="176.94" r="1.6"/><circle cx="339.57" cy="177.07" r="1.6"/><circle cx="345.55" cy="177.23" r="1.6"/><circle cx="351.52" cy="177.44" r="1.6"/><circle cx="357.50" cy="177.70" r="1.6"/><circle cx="363.48" cy="178.02" r="1.6"/><circle cx="369.45" cy="178.40" r="1.6"/><circle cx="375.43" cy="178.85" r="1.6"/><circle cx="381.40" cy="179.38" r="1.6"/><circle cx="387.38" cy="179.99" r="1.6"/><circle cx="393.36" cy="180.70" r="1.6"/><circle cx="399.33" cy="181.50" r="1.6"/><circle cx="405.31" cy="182.41" r="1.6"/><circle cx="411.28" cy="183.43" r="1.6"/><circle cx="417.26" cy="184.55" r="1.6"/><circle cx="423.24" cy="185.77" r="1.6"/><circle cx="429.21" cy="187.05" r="1.6"/><circle cx="435.19" cy="188.40" r="1.6"/><circle cx="441.16" cy="189.80" r="1.6"/><circle cx="447.14" cy="191.22" r="1.6"/><circle cx="453.12" cy="192.67" r="1.6"/><circle cx="459.09" cy="194.12" r="1.6"/><circle cx="465.07" cy="195.55" r="1.6"/><circle cx="471.04" cy="196.97" r="1.6"/><circle cx="477.02" cy="198.34" r="1.6"/><circle cx="483.00" cy="199.66" r="1.6"/><circle cx="488.97" cy="200.91" r="1.6"/><circle cx="494.95" cy="202.09" r="1.6"/><circle cx="500.92" cy="203.16" r="1.6"/><circle cx="506.90" cy="204.13" r="1.6"/></g>
<path d="M118.5,224.5v5.4M118.5,51.0v-5.3M208.1,224.5v5.4M208.1,51.0v-5.3M297.7,224.5v5.4M297.7,51.0v-5.3M387.4,224.5v5.4M387.4,51.0v-5.3M477.0,224.5v5.4M477.0,51.0v-5.3M58.7,224.5h-5.4M506.9,224.5h5.2M58.7,166.7h-5.4M506.9,166.7h5.2M58.7,108.8h-5.4M506.9,108.8h5.2M58.7,51.0h-5.4M506.9,51.0h5.2" stroke="#464646" stroke-width="1.5" fill="none"/>
<text x="37.68" y="230.35" font-size="16.0" fill="#444444" stroke="#444444" stroke-width="0.3" textLength="8.78" lengthAdjust="spacingAndGlyphs">0</text>
<text x="24.01" y="172.52" font-size="16.0" fill="#444444" stroke="#444444" stroke-width="0.3" textLength="20.92" lengthAdjust="spacingAndGlyphs">0.5</text>
<text x="38.64" y="114.68" font-size="16.0" fill="#444444" stroke="#444444" stroke-width="0.3" textLength="5.55" lengthAdjust="spacingAndGlyphs">1</text>
<text x="24.70" y="56.85" font-size="16.0" fill="#444444" stroke="#444444" stroke-width="0.3" textLength="20.00" lengthAdjust="spacingAndGlyphs">1.5</text>
<defs><clipPath id="cp1"><rect x="58.7" y="268.1" width="448.7" height="180.7"/></clipPath></defs>
<line x1="118.5" y1="271.1" x2="118.5" y2="445.8" stroke="#d8dada" stroke-width="1.1" stroke-dasharray="8.6 4.9" stroke-dashoffset="-3.4"/>
<line x1="208.1" y1="271.1" x2="208.1" y2="445.8" stroke="#d8dada" stroke-width="1.1" stroke-dasharray="8.6 4.9" stroke-dashoffset="-3.4"/>
<line x1="297.7" y1="271.1" x2="297.7" y2="445.8" stroke="#d8dada" stroke-width="1.1" stroke-dasharray="8.6 4.9" stroke-dashoffset="-3.4"/>
<line x1="387.4" y1="271.1" x2="387.4" y2="445.8" stroke="#d8dada" stroke-width="1.1" stroke-dasharray="8.6 4.9" stroke-dashoffset="-3.4"/>
<line x1="477.0" y1="271.1" x2="477.0" y2="445.8" stroke="#d8dada" stroke-width="1.1" stroke-dasharray="8.6 4.9" stroke-dashoffset="-3.4"/>
<line x1="58.7" y1="387.6" x2="506.9" y2="387.6" stroke="#d8dada" stroke-width="1.1" stroke-dasharray="8.65 4.9" stroke-dashoffset="-6"/>
<line x1="58.7" y1="329.3" x2="506.9" y2="329.3" stroke="#d8dada" stroke-width="1.1" stroke-dasharray="8.65 4.9" stroke-dashoffset="-6"/>
<rect x="58.7" y="271.1" width="448.2" height="174.7" fill="none" stroke="#464646" stroke-width="1.5"/>
<g clip-path="url(#cp1)">
<path d="M58.7,423.37 L59.7,423.35 L60.7,423.32 L61.7,423.30 L62.7,423.28 L63.7,423.26 L64.7,423.24 L65.7,423.23 L66.7,423.22 L67.7,423.21 L68.7,423.20 L69.7,423.19 L70.7,423.18 L71.7,423.17 L72.7,423.16 L73.7,423.16 L74.7,423.15 L75.7,423.15 L76.7,423.14 L77.7,423.14 L78.7,423.13 L79.7,423.13 L80.7,423.12 L81.7,423.11 L82.7,423.11 L83.7,423.10 L84.7,423.09 L85.7,423.08 L86.7,423.07 L87.7,423.05 L88.7,423.04 L89.7,423.02 L90.7,423.00 L91.7,422.98 L92.7,422.96 L93.7,422.94 L94.7,422.91 L95.7,422.88 L96.7,422.84 L97.7,422.81 L98.7,422.77 L99.7,422.73 L100.7,422.68 L101.7,422.63 L102.7,422.58 L103.7,422.52 L104.7,422.46 L105.7,422.40 L106.7,422.33 L107.7,422.26 L108.7,422.18 L109.7,422.10 L110.7,422.01 L111.7,421.92 L112.7,421.82 L113.7,421.72 L114.7,421.61 L115.7,421.50 L116.7,421.38 L117.7,421.25 L118.7,421.12 L119.7,420.98 L120.7,420.84 L121.7,420.69 L122.7,420.53 L123.7,420.37 L124.7,420.20 L125.7,420.02 L126.7,419.84 L127.7,419.65 L128.7,419.45 L129.7,419.24 L130.7,419.03 L131.7,418.81 L132.7,418.58 L133.7,418.34 L134.7,418.09 L135.7,417.84 L136.7,417.58 L137.7,417.30 L138.7,417.02 L139.7,416.73 L140.7,416.43 L141.7,416.12 L142.7,415.81 L143.7,415.48 L144.7,415.14 L145.7,414.79 L146.7,414.44 L147.7,414.07 L148.7,413.69 L149.7,413.31 L150.7,412.91 L151.7,412.51 L152.7,412.10 L153.7,411.68 L154.7,411.25 L155.7,410.82 L156.7,410.37 L157.7,409.92 L158.7,409.46 L159.7,408.99 L160.7,408.51 L161.7,408.03 L162.7,407.54 L163.7,407.04 L164.7,406.54 L165.7,406.03 L166.7,405.51 L167.7,404.98 L168.7,404.45 L169.7,403.92 L170.7,403.37 L171.7,402.83 L172.7,402.27 L173.7,401.71 L174.7,401.15 L175.7,400.58 L176.7,400.00 L177.7,399.42 L178.7,398.83 L179.7,398.24 L180.7,397.65 L181.7,397.05 L182.7,396.45 L183.7,395.84 L184.7,395.23 L185.7,394.61 L186.7,394.00 L187.7,393.37 L188.7,392.75 L189.7,392.12 L190.7,391.49 L191.7,390.85 L192.7,390.22 L193.7,389.58 L194.7,388.94 L195.7,388.29 L196.7,387.65 L197.7,387.00 L198.7,386.35 L199.7,385.71 L200.7,385.07 L201.7,384.42 L202.7,383.79 L203.7,383.15 L204.7,382.52 L205.7,381.89 L206.7,381.27 L207.7,380.66 L208.7,380.05 L209.7,379.45 L210.7,378.86 L211.7,378.27 L212.7,377.70 L213.7,377.14 L214.7,376.59 L215.7,376.05 L216.7,375.52 L217.7,375.00 L218.7,374.50 L219.7,374.02 L220.7,373.54 L221.7,373.09 L222.7,372.64 L223.7,372.21 L224.7,371.80 L225.7,371.39 L226.7,371.00 L227.7,370.62 L228.7,370.26 L229.7,369.90 L230.7,369.56 L231.7,369.23 L232.7,368.91 L233.7,368.60 L234.7,368.30 L235.7,368.01 L236.7,367.73 L237.7,367.46 L238.7,367.20 L239.7,366.95 L240.7,366.70 L241.7,366.47 L242.7,366.24 L243.7,366.02 L244.7,365.81 L245.7,365.60 L246.7,365.40 L247.7,365.21 L248.7,365.03 L249.7,364.85 L250.7,364.68 L251.7,364.51 L252.7,364.35 L253.7,364.20 L254.7,364.05 L255.7,363.91 L256.7,363.78 L257.7,363.65 L258.7,363.52 L259.7,363.41 L260.7,363.29 L261.7,363.18 L262.7,363.08 L263.7,362.98 L264.7,362.89 L265.7,362.80 L266.7,362.72 L267.7,362.63 L268.7,362.56 L269.7,362.49 L270.7,362.42 L271.7,362.36 L272.7,362.30 L273.7,362.24 L274.7,362.19 L275.7,362.14 L276.7,362.09 L277.7,362.05 L278.7,362.01 L279.7,361.97 L280.7,361.94 L281.7,361.91 L282.7,361.88 L283.7,361.85 L284.7,361.83 L285.7,361.81 L286.7,361.79 L287.7,361.77 L288.7,361.76 L289.7,361.74 L290.7,361.73 L291.7,361.72 L292.7,361.71 L293.7,361.70 L294.7,361.69 L295.7,361.69 L296.7,361.68 L297.7,361.68 L298.7,361.67 L299.7,361.67 L300.7,361.67 L301.7,361.66 L302.7,361.66 L303.7,361.66 L304.7,361.65 L305.7,361.65 L306.7,361.65 L307.7,361.64 L308.7,361.64 L309.7,361.63 L310.7,361.63 L311.7,361.62 L312.7,361.62 L313.7,361.61 L314.7,361.60 L315.7,361.60 L316.7,361.59 L317.7,361.58 L318.7,361.58 L319.7,361.57 L320.7,361.57 L321.7,361.56 L322.7,361.56 L323.7,361.55 L324.7,361.55 L325.7,361.55 L326.7,361.54 L327.7,361.54 L328.7,361.54 L329.7,361.54 L330.7,361.54 L331.7,361.54 L332.7,361.54 L333.7,361.55 L334.7,361.55 L335.7,361.56 L336.7,361.57 L337.7,361.57 L338.7,361.58 L339.7,361.60 L340.7,361.61 L341.7,361.62 L342.7,361.64 L343.7,361.66 L344.7,361.68 L345.7,361.70 L346.7,361.72 L347.7,361.75 L348.7,361.77 L349.7,361.80 L350.7,361.83 L351.7,361.87 L352.7,361.90 L353.7,361.94 L354.7,361.98 L355.7,362.03 L356.7,362.07 L357.7,362.12 L358.7,362.17 L359.7,362.23 L360.7,362.28 L361.7,362.34 L362.7,362.40 L363.7,362.47 L364.7,362.54 L365.7,362.61 L366.7,362.68 L367.7,362.76 L368.7,362.84 L369.7,362.92 L370.7,363.01 L371.7,363.10 L372.7,363.20 L373.7,363.30 L374.7,363.40 L375.7,363.50 L376.7,363.61 L377.7,363.73 L378.7,363.84 L379.7,363.96 L380.7,364.09 L381.7,364.22 L382.7,364.35 L383.7,364.49 L384.7,364.63 L385.7,364.78 L386.7,364.93 L387.7,365.08 L388.7,365.24 L389.7,365.40 L390.7,365.57 L391.7,365.75 L392.7,365.93 L393.7,366.11 L394.7,366.30 L395.7,366.49 L396.7,366.69 L397.7,366.89 L398.7,367.10 L399.7,367.31 L400.7,367.53 L401.7,367.75 L402.7,367.98 L403.7,368.22 L404.7,368.46 L405.7,368.70 L406.7,368.96 L407.7,369.21 L408.7,369.48 L409.7,369.75 L410.7,370.02 L411.7,370.30 L412.7,370.59 L413.7,370.88 L414.7,371.18 L415.7,371.48 L416.7,371.80 L417.7,372.11 L418.7,372.44 L419.7,372.77 L420.7,373.11 L421.7,373.45 L422.7,373.80 L423.7,374.15 L424.7,374.51 L425.7,374.88 L426.7,375.25 L427.7,375.63 L428.7,376.01 L429.7,376.39 L430.7,376.78 L431.7,377.17 L432.7,377.57 L433.7,377.97 L434.7,378.37 L435.7,378.78 L436.7,379.19 L437.7,379.60 L438.7,380.01 L439.7,380.43 L440.7,380.85 L441.7,381.27 L442.7,381.69 L443.7,382.11 L444.7,382.54 L445.7,382.96 L446.7,383.39 L447.7,383.81 L448.7,384.24 L449.7,384.67 L450.7,385.09 L451.7,385.52 L452.7,385.94 L453.7,386.36 L454.7,386.79 L455.7,387.21 L456.7,387.63 L457.7,388.05 L458.7,388.46 L459.7,388.87 L460.7,389.29 L461.7,389.69 L462.7,390.10 L463.7,390.50 L464.7,390.90 L465.7,391.29 L466.7,391.69 L467.7,392.07 L468.7,392.46 L469.7,392.84 L470.7,393.21 L471.7,393.58 L472.7,393.95 L473.7,394.31 L474.7,394.67 L475.7,395.03 L476.7,395.38 L477.7,395.73 L478.7,396.08 L479.7,396.43 L480.7,396.77 L481.7,397.12 L482.7,397.46 L483.7,397.81 L484.7,398.15 L485.7,398.50 L486.7,398.84 L487.7,399.18 L488.7,399.53 L489.7,399.88 L490.7,400.22 L491.7,400.58 L492.7,400.93 L493.7,401.28 L494.7,401.64 L495.7,402.00 L496.7,402.36 L497.7,402.73 L498.7,403.10 L499.7,403.48 L500.7,403.86 L501.7,404.24 L502.7,404.63 L503.7,405.03 L504.7,405.43 L505.7,405.84 L506.7,406.25 L507.5,406.59" fill="none" stroke="#9fcc3a" stroke-width="2.7" stroke-linejoin="round"/>
<path d="M58.7,433.39 L59.7,433.42 L60.7,433.46 L61.7,433.50 L62.7,433.53 L63.7,433.56 L64.7,433.60 L65.7,433.63 L66.7,433.66 L67.7,433.68 L68.7,433.71 L69.7,433.74 L70.7,433.76 L71.7,433.78 L72.7,433.80 L73.7,433.82 L74.7,433.84 L75.7,433.85 L76.7,433.87 L77.7,433.88 L78.7,433.89 L79.7,433.89 L80.7,433.90 L81.7,433.90 L82.7,433.90 L83.7,433.90 L84.7,433.90 L85.7,433.89 L86.7,433.88 L87.7,433.87 L88.7,433.85 L89.7,433.83 L90.7,433.81 L91.7,433.79 L92.7,433.76 L93.7,433.73 L94.7,433.70 L95.7,433.67 L96.7,433.63 L97.7,433.58 L98.7,433.54 L99.7,433.49 L100.7,433.44 L101.7,433.38 L102.7,433.32 L103.7,433.25 L104.7,433.19 L105.7,433.12 L106.7,433.04 L107.7,432.96 L108.7,432.88 L109.7,432.79 L110.7,432.70 L111.7,432.60 L112.7,432.50 L113.7,432.40 L114.7,432.29 L115.7,432.17 L116.7,432.05 L117.7,431.93 L118.7,431.80 L119.7,431.67 L120.7,431.53 L121.7,431.39 L122.7,431.24 L123.7,431.09 L124.7,430.93 L125.7,430.77 L126.7,430.60 L127.7,430.43 L128.7,430.25 L129.7,430.06 L130.7,429.87 L131.7,429.68 L132.7,429.48 L133.7,429.27 L134.7,429.06 L135.7,428.84 L136.7,428.62 L137.7,428.39 L138.7,428.16 L139.7,427.92 L140.7,427.68 L141.7,427.44 L142.7,427.19 L143.7,426.93 L144.7,426.68 L145.7,426.42 L146.7,426.15 L147.7,425.88 L148.7,425.61 L149.7,425.34 L150.7,425.06 L151.7,424.79 L152.7,424.50 L153.7,424.22 L154.7,423.93 L155.7,423.65 L156.7,423.36 L157.7,423.07 L158.7,422.77 L159.7,422.48 L160.7,422.19 L161.7,421.89 L162.7,421.59 L163.7,421.30 L164.7,421.00 L165.7,420.70 L166.7,420.40 L167.7,420.11 L168.7,419.81 L169.7,419.51 L170.7,419.21 L171.7,418.92 L172.7,418.62 L173.7,418.33 L174.7,418.04 L175.7,417.74 L176.7,417.45 L177.7,417.17 L178.7,416.88 L179.7,416.59 L180.7,416.31 L181.7,416.03 L182.7,415.76 L183.7,415.48 L184.7,415.21 L185.7,414.94 L186.7,414.67 L187.7,414.41 L188.7,414.15 L189.7,413.89 L190.7,413.63 L191.7,413.38 L192.7,413.13 L193.7,412.88 L194.7,412.64 L195.7,412.39 L196.7,412.16 L197.7,411.92 L198.7,411.69 L199.7,411.46 L200.7,411.23 L201.7,411.00 L202.7,410.78 L203.7,410.57 L204.7,410.35 L205.7,410.14 L206.7,409.93 L207.7,409.73 L208.7,409.52 L209.7,409.32 L210.7,409.13 L211.7,408.94 L212.7,408.75 L213.7,408.56 L214.7,408.38 L215.7,408.20 L216.7,408.02 L217.7,407.85 L218.7,407.68 L219.7,407.51 L220.7,407.35 L221.7,407.19 L222.7,407.04 L223.7,406.89 L224.7,406.74 L225.7,406.59 L226.7,406.45 L227.7,406.31 L228.7,406.18 L229.7,406.05 L230.7,405.92 L231.7,405.80 L232.7,405.68 L233.7,405.57 L234.7,405.45 L235.7,405.35 L236.7,405.24 L237.7,405.14 L238.7,405.05 L239.7,404.95 L240.7,404.87 L241.7,404.78 L242.7,404.70 L243.7,404.63 L244.7,404.55 L245.7,404.48 L246.7,404.42 L247.7,404.36 L248.7,404.30 L249.7,404.25 L250.7,404.20 L251.7,404.15 L252.7,404.11 L253.7,404.07 L254.7,404.04 L255.7,404.00 L256.7,403.97 L257.7,403.95 L258.7,403.92 L259.7,403.90 L260.7,403.88 L261.7,403.87 L262.7,403.86 L263.7,403.85 L264.7,403.84 L265.7,403.83 L266.7,403.83 L267.7,403.83 L268.7,403.83 L269.7,403.83 L270.7,403.84 L271.7,403.85 L272.7,403.86 L273.7,403.87 L274.7,403.88 L275.7,403.89 L276.7,403.91 L277.7,403.93 L278.7,403.95 L279.7,403.97 L280.7,403.99 L281.7,404.01 L282.7,404.03 L283.7,404.06 L284.7,404.08 L285.7,404.11 L286.7,404.13 L287.7,404.16 L288.7,404.19 L289.7,404.22 L290.7,404.25 L291.7,404.28 L292.7,404.31 L293.7,404.34 L294.7,404.36 L295.7,404.39 L296.7,404.42 L297.7,404.45 L298.7,404.48 L299.7,404.51 L300.7,404.54 L301.7,404.57 L302.7,404.60 L303.7,404.62 L304.7,404.65 L305.7,404.67 L306.7,404.70 L307.7,404.72 L308.7,404.74 L309.7,404.77 L310.7,404.79 L311.7,404.81 L312.7,404.83 L313.7,404.85 L314.7,404.87 L315.7,404.89 L316.7,404.90 L317.7,404.92 L318.7,404.94 L319.7,404.95 L320.7,404.97 L321.7,404.99 L322.7,405.00 L323.7,405.02 L324.7,405.03 L325.7,405.05 L326.7,405.07 L327.7,405.08 L328.7,405.10 L329.7,405.11 L330.7,405.13 L331.7,405.14 L332.7,405.16 L333.7,405.18 L334.7,405.19 L335.7,405.21 L336.7,405.23 L337.7,405.24 L338.7,405.26 L339.7,405.28 L340.7,405.30 L341.7,405.32 L342.7,405.34 L343.7,405.36 L344.7,405.38 L345.7,405.41 L346.7,405.43 L347.7,405.45 L348.7,405.48 L349.7,405.50 L350.7,405.53 L351.7,405.56 L352.7,405.59 L353.7,405.62 L354.7,405.65 L355.7,405.68 L356.7,405.71 L357.7,405.75 L358.7,405.79 L359.7,405.82 L360.7,405.86 L361.7,405.90 L362.7,405.94 L363.7,405.99 L364.7,406.03 L365.7,406.08 L366.7,406.13 L367.7,406.18 L368.7,406.23 L369.7,406.28 L370.7,406.33 L371.7,406.39 L372.7,406.45 L373.7,406.51 L374.7,406.57 L375.7,406.64 L376.7,406.70 L377.7,406.77 L378.7,406.84 L379.7,406.92 L380.7,406.99 L381.7,407.07 L382.7,407.15 L383.7,407.23 L384.7,407.32 L385.7,407.40 L386.7,407.49 L387.7,407.58 L388.7,407.68 L389.7,407.78 L390.7,407.88 L391.7,407.98 L392.7,408.08 L393.7,408.19 L394.7,408.30 L395.7,408.42 L396.7,408.53 L397.7,408.65 L398.7,408.77 L399.7,408.90 L400.7,409.03 L401.7,409.16 L402.7,409.29 L403.7,409.43 L404.7,409.57 L405.7,409.72 L406.7,409.87 L407.7,410.02 L408.7,410.17 L409.7,410.33 L410.7,410.49 L411.7,410.65 L412.7,410.82 L413.7,410.99 L414.7,411.16 L415.7,411.34 L416.7,411.51 L417.7,411.69 L418.7,411.88 L419.7,412.06 L420.7,412.25 L421.7,412.44 L422.7,412.63 L423.7,412.82 L424.7,413.02 L425.7,413.22 L426.7,413.42 L427.7,413.62 L428.7,413.82 L429.7,414.03 L430.7,414.23 L431.7,414.44 L432.7,414.65 L433.7,414.86 L434.7,415.07 L435.7,415.28 L436.7,415.49 L437.7,415.71 L438.7,415.92 L439.7,416.14 L440.7,416.36 L441.7,416.57 L442.7,416.79 L443.7,417.01 L444.7,417.23 L445.7,417.45 L446.7,417.67 L447.7,417.89 L448.7,418.10 L449.7,418.32 L450.7,418.54 L451.7,418.76 L452.7,418.98 L453.7,419.20 L454.7,419.42 L455.7,419.64 L456.7,419.85 L457.7,420.07 L458.7,420.29 L459.7,420.50 L460.7,420.72 L461.7,420.93 L462.7,421.14 L463.7,421.35 L464.7,421.56 L465.7,421.77 L466.7,421.98 L467.7,422.18 L468.7,422.39 L469.7,422.59 L470.7,422.79 L471.7,422.99 L472.7,423.19 L473.7,423.38 L474.7,423.58 L475.7,423.77 L476.7,423.96 L477.7,424.15 L478.7,424.33 L479.7,424.51 L480.7,424.69 L481.7,424.87 L482.7,425.04 L483.7,425.22 L484.7,425.39 L485.7,425.55 L486.7,425.72 L487.7,425.88 L488.7,426.03 L489.7,426.19 L490.7,426.34 L491.7,426.49 L492.7,426.63 L493.7,426.77 L494.7,426.91 L495.7,427.04 L496.7,427.17 L497.7,427.30 L498.7,427.42 L499.7,427.54 L500.7,427.65 L501.7,427.76 L502.7,427.87 L503.7,427.97 L504.7,428.07 L505.7,428.16 L506.7,428.25 L507.5,428.31" fill="none" stroke="#1a1a1a" stroke-width="2.7" stroke-linejoin="round"/>
<path d="M58.7,422.37 L59.7,422.32 L60.7,422.28 L61.7,422.24 L62.7,422.21 L63.7,422.17 L64.7,422.15 L65.7,422.12 L66.7,422.10 L67.7,422.08 L68.7,422.06 L69.7,422.04 L70.7,422.03 L71.7,422.02 L72.7,422.01 L73.7,422.00 L74.7,421.99 L75.7,421.99 L76.7,421.98 L77.7,421.98 L78.7,421.97 L79.7,421.97 L80.7,421.96 L81.7,421.96 L82.7,421.96 L83.7,421.95 L84.7,421.94 L85.7,421.94 L86.7,421.93 L87.7,421.92 L88.7,421.91 L89.7,421.90 L90.7,421.88 L91.7,421.87 L92.7,421.85 L93.7,421.83 L94.7,421.80 L95.7,421.78 L96.7,421.75 L97.7,421.71 L98.7,421.68 L99.7,421.64 L100.7,421.59 L101.7,421.54 L102.7,421.49 L103.7,421.43 L104.7,421.37 L105.7,421.30 L106.7,421.23 L107.7,421.15 L108.7,421.07 L109.7,420.98 L110.7,420.88 L111.7,420.78 L112.7,420.67 L113.7,420.56 L114.7,420.44 L115.7,420.31 L116.7,420.18 L117.7,420.03 L118.7,419.89 L119.7,419.73 L120.7,419.56 L121.7,419.39 L122.7,419.21 L123.7,419.02 L124.7,418.82 L125.7,418.61 L126.7,418.39 L127.7,418.16 L128.7,417.93 L129.7,417.68 L130.7,417.43 L131.7,417.16 L132.7,416.88 L133.7,416.60 L134.7,416.30 L135.7,415.99 L136.7,415.68 L137.7,415.35 L138.7,415.01 L139.7,414.67 L140.7,414.31 L141.7,413.95 L142.7,413.58 L143.7,413.19 L144.7,412.80 L145.7,412.40 L146.7,412.00 L147.7,411.58 L148.7,411.16 L149.7,410.72 L150.7,410.28 L151.7,409.84 L152.7,409.38 L153.7,408.92 L154.7,408.45 L155.7,407.97 L156.7,407.49 L157.7,407.00 L158.7,406.50 L159.7,405.99 L160.7,405.48 L161.7,404.96 L162.7,404.44 L163.7,403.91 L164.7,403.38 L165.7,402.84 L166.7,402.29 L167.7,401.74 L168.7,401.18 L169.7,400.62 L170.7,400.05 L171.7,399.48 L172.7,398.90 L173.7,398.32 L174.7,397.73 L175.7,397.14 L176.7,396.55 L177.7,395.95 L178.7,395.35 L179.7,394.74 L180.7,394.13 L181.7,393.52 L182.7,392.90 L183.7,392.28 L184.7,391.66 L185.7,391.04 L186.7,390.41 L187.7,389.78 L188.7,389.15 L189.7,388.52 L190.7,387.89 L191.7,387.26 L192.7,386.63 L193.7,386.00 L194.7,385.38 L195.7,384.75 L196.7,384.13 L197.7,383.50 L198.7,382.88 L199.7,382.27 L200.7,381.65 L201.7,381.04 L202.7,380.44 L203.7,379.84 L204.7,379.24 L205.7,378.65 L206.7,378.06 L207.7,377.48 L208.7,376.91 L209.7,376.34 L210.7,375.78 L211.7,375.23 L212.7,374.69 L213.7,374.15 L214.7,373.62 L215.7,373.11 L216.7,372.60 L217.7,372.10 L218.7,371.61 L219.7,371.13 L220.7,370.66 L221.7,370.20 L222.7,369.75 L223.7,369.32 L224.7,368.89 L225.7,368.47 L226.7,368.07 L227.7,367.67 L228.7,367.29 L229.7,366.92 L230.7,366.55 L231.7,366.20 L232.7,365.86 L233.7,365.53 L234.7,365.20 L235.7,364.89 L236.7,364.59 L237.7,364.30 L238.7,364.02 L239.7,363.75 L240.7,363.50 L241.7,363.25 L242.7,363.01 L243.7,362.78 L244.7,362.56 L245.7,362.36 L246.7,362.16 L247.7,361.97 L248.7,361.80 L249.7,361.63 L250.7,361.47 L251.7,361.32 L252.7,361.18 L253.7,361.05 L254.7,360.92 L255.7,360.81 L256.7,360.70 L257.7,360.60 L258.7,360.51 L259.7,360.42 L260.7,360.34 L261.7,360.27 L262.7,360.21 L263.7,360.15 L264.7,360.10 L265.7,360.05 L266.7,360.01 L267.7,359.98 L268.7,359.95 L269.7,359.93 L270.7,359.91 L271.7,359.90 L272.7,359.89 L273.7,359.89 L274.7,359.89 L275.7,359.89 L276.7,359.90 L277.7,359.91 L278.7,359.93 L279.7,359.95 L280.7,359.97 L281.7,360.00 L282.7,360.02 L283.7,360.05 L284.7,360.08 L285.7,360.12 L286.7,360.15 L287.7,360.19 L288.7,360.23 L289.7,360.27 L290.7,360.31 L291.7,360.35 L292.7,360.40 L293.7,360.44 L294.7,360.48 L295.7,360.53 L296.7,360.57 L297.7,360.61 L298.7,360.65 L299.7,360.69 L300.7,360.73 L301.7,360.77 L302.7,360.81 L303.7,360.84 L304.7,360.87 L305.7,360.91 L306.7,360.93 L307.7,360.96 L308.7,360.98 L309.7,361.01 L310.7,361.02 L311.7,361.04 L312.7,361.06 L313.7,361.07 L314.7,361.08 L315.7,361.09 L316.7,361.10 L317.7,361.10 L318.7,361.11 L319.7,361.11 L320.7,361.11 L321.7,361.11 L322.7,361.11 L323.7,361.11 L324.7,361.11 L325.7,361.11 L326.7,361.11 L327.7,361.10 L328.7,361.10 L329.7,361.10 L330.7,361.09 L331.7,361.09 L332.7,361.09 L333.7,361.08 L334.7,361.08 L335.7,361.08 L336.7,361.08 L337.7,361.08 L338.7,361.08 L339.7,361.08 L340.7,361.08 L341.7,361.08 L342.7,361.09 L343.7,361.09 L344.7,361.10 L345.7,361.11 L346.7,361.12 L347.7,361.13 L348.7,361.15 L349.7,361.17 L350.7,361.18 L351.7,361.21 L352.7,361.23 L353.7,361.25 L354.7,361.28 L355.7,361.31 L356.7,361.35 L357.7,361.39 L358.7,361.43 L359.7,361.47 L360.7,361.52 L361.7,361.57 L362.7,361.62 L363.7,361.68 L364.7,361.74 L365.7,361.80 L366.7,361.87 L367.7,361.94 L368.7,362.02 L369.7,362.10 L370.7,362.19 L371.7,362.28 L372.7,362.37 L373.7,362.47 L374.7,362.58 L375.7,362.69 L376.7,362.80 L377.7,362.92 L378.7,363.05 L379.7,363.18 L380.7,363.31 L381.7,363.45 L382.7,363.60 L383.7,363.75 L384.7,363.91 L385.7,364.08 L386.7,364.25 L387.7,364.42 L388.7,364.60 L389.7,364.79 L390.7,364.98 L391.7,365.18 L392.7,365.38 L393.7,365.59 L394.7,365.80 L395.7,366.02 L396.7,366.24 L397.7,366.47 L398.7,366.71 L399.7,366.94 L400.7,367.19 L401.7,367.44 L402.7,367.69 L403.7,367.95 L404.7,368.21 L405.7,368.48 L406.7,368.75 L407.7,369.03 L408.7,369.31 L409.7,369.60 L410.7,369.89 L411.7,370.18 L412.7,370.48 L413.7,370.79 L414.7,371.10 L415.7,371.41 L416.7,371.73 L417.7,372.05 L418.7,372.37 L419.7,372.70 L420.7,373.04 L421.7,373.37 L422.7,373.71 L423.7,374.06 L424.7,374.41 L425.7,374.76 L426.7,375.12 L427.7,375.48 L428.7,375.84 L429.7,376.20 L430.7,376.57 L431.7,376.94 L432.7,377.32 L433.7,377.69 L434.7,378.07 L435.7,378.46 L436.7,378.84 L437.7,379.23 L438.7,379.61 L439.7,380.01 L440.7,380.40 L441.7,380.79 L442.7,381.19 L443.7,381.59 L444.7,381.99 L445.7,382.39 L446.7,382.79 L447.7,383.20 L448.7,383.60 L449.7,384.01 L450.7,384.41 L451.7,384.82 L452.7,385.23 L453.7,385.64 L454.7,386.05 L455.7,386.46 L456.7,386.87 L457.7,387.28 L458.7,387.69 L459.7,388.11 L460.7,388.52 L461.7,388.93 L462.7,389.34 L463.7,389.75 L464.7,390.16 L465.7,390.57 L466.7,390.98 L467.7,391.39 L468.7,391.79 L469.7,392.20 L470.7,392.60 L471.7,393.01 L472.7,393.41 L473.7,393.81 L474.7,394.21 L475.7,394.61 L476.7,395.01 L477.7,395.40 L478.7,395.79 L479.7,396.18 L480.7,396.57 L481.7,396.96 L482.7,397.34 L483.7,397.72 L484.7,398.10 L485.7,398.48 L486.7,398.85 L487.7,399.22 L488.7,399.59 L489.7,399.96 L490.7,400.32 L491.7,400.68 L492.7,401.03 L493.7,401.39 L494.7,401.73 L495.7,402.08 L496.7,402.42 L497.7,402.76 L498.7,403.09 L499.7,403.42 L500.7,403.74 L501.7,404.07 L502.7,404.38 L503.7,404.69 L504.7,405.00 L505.7,405.30 L506.7,405.60 L507.5,405.84" fill="none" stroke="#1d4fa4" stroke-width="2.8" stroke-dasharray="2.9 2.185"/>
<path d="M58.7,424.96 L59.7,424.94 L60.7,424.92 L61.7,424.90 L62.7,424.89 L63.7,424.88 L64.7,424.87 L65.7,424.86 L66.7,424.85 L67.7,424.85 L68.7,424.85 L69.7,424.84 L70.7,424.84 L71.7,424.84 L72.7,424.84 L73.7,424.84 L74.7,424.84 L75.7,424.84 L76.7,424.84 L77.7,424.85 L78.7,424.85 L79.7,424.85 L80.7,424.85 L81.7,424.85 L82.7,424.85 L83.7,424.84 L84.7,424.84 L85.7,424.84 L86.7,424.83 L87.7,424.82 L88.7,424.81 L89.7,424.80 L90.7,424.79 L91.7,424.77 L92.7,424.76 L93.7,424.73 L94.7,424.71 L95.7,424.69 L96.7,424.66 L97.7,424.63 L98.7,424.59 L99.7,424.55 L100.7,424.51 L101.7,424.47 L102.7,424.42 L103.7,424.36 L104.7,424.31 L105.7,424.24 L106.7,424.18 L107.7,424.11 L108.7,424.03 L109.7,423.95 L110.7,423.86 L111.7,423.77 L112.7,423.68 L113.7,423.58 L114.7,423.47 L115.7,423.35 L116.7,423.24 L117.7,423.11 L118.7,422.98 L119.7,422.84 L120.7,422.70 L121.7,422.54 L122.7,422.39 L123.7,422.22 L124.7,422.05 L125.7,421.87 L126.7,421.68 L127.7,421.49 L128.7,421.28 L129.7,421.07 L130.7,420.86 L131.7,420.63 L132.7,420.39 L133.7,420.15 L134.7,419.90 L135.7,419.64 L136.7,419.37 L137.7,419.09 L138.7,418.81 L139.7,418.52 L140.7,418.22 L141.7,417.91 L142.7,417.60 L143.7,417.28 L144.7,416.95 L145.7,416.61 L146.7,416.27 L147.7,415.92 L148.7,415.56 L149.7,415.20 L150.7,414.83 L151.7,414.45 L152.7,414.07 L153.7,413.68 L154.7,413.29 L155.7,412.89 L156.7,412.48 L157.7,412.07 L158.7,411.65 L159.7,411.23 L160.7,410.80 L161.7,410.37 L162.7,409.93 L163.7,409.48 L164.7,409.03 L165.7,408.58 L166.7,408.12 L167.7,407.65 L168.7,407.19 L169.7,406.71 L170.7,406.24 L171.7,405.75 L172.7,405.27 L173.7,404.78 L174.7,404.28 L175.7,403.79 L176.7,403.29 L177.7,402.78 L178.7,402.27 L179.7,401.76 L180.7,401.25 L181.7,400.73 L182.7,400.21 L183.7,399.68 L184.7,399.16 L185.7,398.63 L186.7,398.10 L187.7,397.57 L188.7,397.03 L189.7,396.50 L190.7,395.96 L191.7,395.43 L192.7,394.90 L193.7,394.36 L194.7,393.83 L195.7,393.30 L196.7,392.77 L197.7,392.24 L198.7,391.71 L199.7,391.18 L200.7,390.66 L201.7,390.14 L202.7,389.63 L203.7,389.11 L204.7,388.61 L205.7,388.10 L206.7,387.60 L207.7,387.10 L208.7,386.61 L209.7,386.13 L210.7,385.65 L211.7,385.18 L212.7,384.71 L213.7,384.25 L214.7,383.79 L215.7,383.35 L216.7,382.91 L217.7,382.48 L218.7,382.05 L219.7,381.64 L220.7,381.23 L221.7,380.83 L222.7,380.44 L223.7,380.06 L224.7,379.68 L225.7,379.32 L226.7,378.96 L227.7,378.60 L228.7,378.26 L229.7,377.92 L230.7,377.59 L231.7,377.27 L232.7,376.96 L233.7,376.66 L234.7,376.36 L235.7,376.07 L236.7,375.78 L237.7,375.51 L238.7,375.24 L239.7,374.98 L240.7,374.73 L241.7,374.48 L242.7,374.25 L243.7,374.02 L244.7,373.79 L245.7,373.58 L246.7,373.37 L247.7,373.17 L248.7,372.98 L249.7,372.79 L250.7,372.61 L251.7,372.44 L252.7,372.28 L253.7,372.12 L254.7,371.97 L255.7,371.83 L256.7,371.70 L257.7,371.57 L258.7,371.45 L259.7,371.33 L260.7,371.22 L261.7,371.12 L262.7,371.02 L263.7,370.93 L264.7,370.84 L265.7,370.76 L266.7,370.69 L267.7,370.62 L268.7,370.56 L269.7,370.50 L270.7,370.44 L271.7,370.39 L272.7,370.34 L273.7,370.30 L274.7,370.26 L275.7,370.23 L276.7,370.20 L277.7,370.17 L278.7,370.15 L279.7,370.12 L280.7,370.11 L281.7,370.09 L282.7,370.08 L283.7,370.07 L284.7,370.06 L285.7,370.05 L286.7,370.05 L287.7,370.05 L288.7,370.05 L289.7,370.05 L290.7,370.05 L291.7,370.05 L292.7,370.06 L293.7,370.06 L294.7,370.07 L295.7,370.07 L296.7,370.08 L297.7,370.09 L298.7,370.09 L299.7,370.10 L300.7,370.11 L301.7,370.11 L302.7,370.12 L303.7,370.12 L304.7,370.12 L305.7,370.13 L306.7,370.13 L307.7,370.12 L308.7,370.12 L309.7,370.12 L310.7,370.11 L311.7,370.11 L312.7,370.10 L313.7,370.10 L314.7,370.09 L315.7,370.08 L316.7,370.07 L317.7,370.06 L318.7,370.05 L319.7,370.05 L320.7,370.04 L321.7,370.03 L322.7,370.02 L323.7,370.01 L324.7,370.00 L325.7,370.00 L326.7,369.99 L327.7,369.99 L328.7,369.98 L329.7,369.98 L330.7,369.98 L331.7,369.97 L332.7,369.98 L333.7,369.98 L334.7,369.98 L335.7,369.98 L336.7,369.99 L337.7,370.00 L338.7,370.01 L339.7,370.02 L340.7,370.03 L341.7,370.04 L342.7,370.06 L343.7,370.08 L344.7,370.10 L345.7,370.12 L346.7,370.14 L347.7,370.17 L348.7,370.20 L349.7,370.23 L350.7,370.26 L351.7,370.29 L352.7,370.33 L353.7,370.37 L354.7,370.41 L355.7,370.45 L356.7,370.50 L357.7,370.55 L358.7,370.60 L359.7,370.65 L360.7,370.71 L361.7,370.76 L362.7,370.82 L363.7,370.89 L364.7,370.95 L365.7,371.02 L366.7,371.10 L367.7,371.17 L368.7,371.25 L369.7,371.33 L370.7,371.41 L371.7,371.50 L372.7,371.59 L373.7,371.68 L374.7,371.78 L375.7,371.88 L376.7,371.98 L377.7,372.09 L378.7,372.20 L379.7,372.31 L380.7,372.43 L381.7,372.55 L382.7,372.67 L383.7,372.80 L384.7,372.93 L385.7,373.06 L386.7,373.20 L387.7,373.34 L388.7,373.48 L389.7,373.63 L390.7,373.79 L391.7,373.94 L392.7,374.10 L393.7,374.27 L394.7,374.44 L395.7,374.61 L396.7,374.79 L397.7,374.97 L398.7,375.16 L399.7,375.35 L400.7,375.54 L401.7,375.74 L402.7,375.94 L403.7,376.15 L404.7,376.36 L405.7,376.58 L406.7,376.80 L407.7,377.02 L408.7,377.25 L409.7,377.49 L410.7,377.73 L411.7,377.97 L412.7,378.22 L413.7,378.48 L414.7,378.74 L415.7,379.00 L416.7,379.27 L417.7,379.54 L418.7,379.82 L419.7,380.11 L420.7,380.40 L421.7,380.69 L422.7,380.99 L423.7,381.29 L424.7,381.60 L425.7,381.92 L426.7,382.23 L427.7,382.55 L428.7,382.88 L429.7,383.21 L430.7,383.54 L431.7,383.88 L432.7,384.22 L433.7,384.56 L434.7,384.90 L435.7,385.25 L436.7,385.60 L437.7,385.96 L438.7,386.31 L439.7,386.67 L440.7,387.03 L441.7,387.40 L442.7,387.76 L443.7,388.13 L444.7,388.49 L445.7,388.86 L446.7,389.23 L447.7,389.61 L448.7,389.98 L449.7,390.35 L450.7,390.73 L451.7,391.10 L452.7,391.48 L453.7,391.86 L454.7,392.23 L455.7,392.61 L456.7,392.98 L457.7,393.36 L458.7,393.73 L459.7,394.11 L460.7,394.48 L461.7,394.86 L462.7,395.23 L463.7,395.60 L464.7,395.97 L465.7,396.34 L466.7,396.70 L467.7,397.07 L468.7,397.43 L469.7,397.79 L470.7,398.15 L471.7,398.51 L472.7,398.86 L473.7,399.21 L474.7,399.56 L475.7,399.91 L476.7,400.25 L477.7,400.59 L478.7,400.92 L479.7,401.26 L480.7,401.59 L481.7,401.91 L482.7,402.23 L483.7,402.55 L484.7,402.86 L485.7,403.17 L486.7,403.48 L487.7,403.77 L488.7,404.07 L489.7,404.36 L490.7,404.64 L491.7,404.92 L492.7,405.20 L493.7,405.47 L494.7,405.73 L495.7,405.99 L496.7,406.24 L497.7,406.48 L498.7,406.72 L499.7,406.95 L500.7,407.18 L501.7,407.40 L502.7,407.61 L503.7,407.82 L504.7,408.01 L505.7,408.20 L506.7,408.39 L507.5,408.53" fill="none" stroke="#1d4fa4" stroke-width="2.7" stroke-dasharray="10.3 10.0"/>
</g>
<g fill="#ea2a26"><circle cx="58.70" cy="426.98" r="1.6"/><circle cx="64.68" cy="427.01" r="1.6"/><circle cx="70.65" cy="427.11" r="1.6"/><circle cx="76.63" cy="427.24" r="1.6"/><circle cx="82.60" cy="427.35" r="1.6"/><circle cx="88.58" cy="427.41" r="1.6"/><circle cx="94.56" cy="427.39" r="1.6"/><circle cx="100.53" cy="427.25" r="1.6"/><circle cx="106.51" cy="426.96" r="1.6"/><circle cx="112.48" cy="426.48" r="1.6"/><circle cx="118.46" cy="425.76" r="1.6"/><circle cx="124.44" cy="424.79" r="1.6"/><circle cx="130.41" cy="423.52" r="1.6"/><circle cx="136.39" cy="421.92" r="1.6"/><circle cx="142.36" cy="420.01" r="1.6"/><circle cx="148.34" cy="417.84" r="1.6"/><circle cx="154.32" cy="415.45" r="1.6"/><circle cx="160.29" cy="412.90" r="1.6"/><circle cx="166.27" cy="410.22" r="1.6"/><circle cx="172.24" cy="407.46" r="1.6"/><circle cx="178.22" cy="404.68" r="1.6"/><circle cx="184.20" cy="401.91" r="1.6"/><circle cx="190.17" cy="399.21" r="1.6"/><circle cx="196.15" cy="396.62" r="1.6"/><circle cx="202.12" cy="394.17" r="1.6"/><circle cx="208.10" cy="391.88" r="1.6"/><circle cx="214.08" cy="389.76" r="1.6"/><circle cx="220.05" cy="387.82" r="1.6"/><circle cx="226.03" cy="386.08" r="1.6"/><circle cx="232.00" cy="384.55" r="1.6"/><circle cx="237.98" cy="383.24" r="1.6"/><circle cx="243.96" cy="382.16" r="1.6"/><circle cx="249.93" cy="381.32" r="1.6"/><circle cx="255.91" cy="380.70" r="1.6"/><circle cx="261.88" cy="380.28" r="1.6"/><circle cx="267.86" cy="380.02" r="1.6"/><circle cx="273.84" cy="379.90" r="1.6"/><circle cx="279.81" cy="379.88" r="1.6"/><circle cx="285.79" cy="379.96" r="1.6"/><circle cx="291.76" cy="380.09" r="1.6"/><circle cx="297.74" cy="380.24" r="1.6"/><circle cx="303.72" cy="380.40" r="1.6"/><circle cx="309.69" cy="380.54" r="1.6"/><circle cx="315.67" cy="380.64" r="1.6"/><circle cx="321.64" cy="380.73" r="1.6"/><circle cx="327.62" cy="380.82" r="1.6"/><circle cx="333.60" cy="380.92" r="1.6"/><circle cx="339.57" cy="381.04" r="1.6"/><circle cx="345.55" cy="381.19" r="1.6"/><circle cx="351.52" cy="381.39" r="1.6"/><circle cx="357.50" cy="381.65" r="1.6"/><circle cx="363.48" cy="381.98" r="1.6"/><circle cx="369.45" cy="382.39" r="1.6"/><circle cx="375.43" cy="382.90" r="1.6"/><circle cx="381.40" cy="383.52" r="1.6"/><circle cx="387.38" cy="384.26" r="1.6"/><circle cx="393.36" cy="385.13" r="1.6"/><circle cx="399.33" cy="386.15" r="1.6"/><circle cx="405.31" cy="387.32" r="1.6"/><circle cx="411.28" cy="388.67" r="1.6"/><circle cx="417.26" cy="390.16" r="1.6"/><circle cx="423.24" cy="391.79" r="1.6"/><circle cx="429.21" cy="393.53" r="1.6"/><circle cx="435.19" cy="395.37" r="1.6"/><circle cx="441.16" cy="397.28" r="1.6"/><circle cx="447.14" cy="399.24" r="1.6"/><circle cx="453.12" cy="401.23" r="1.6"/><circle cx="459.09" cy="403.23" r="1.6"/><circle cx="465.07" cy="405.22" r="1.6"/><circle cx="471.04" cy="407.19" r="1.6"/><circle cx="477.02" cy="409.11" r="1.6"/><circle cx="483.00" cy="410.95" r="1.6"/><circle cx="488.97" cy="412.71" r="1.6"/><circle cx="494.95" cy="414.36" r="1.6"/><circle cx="500.92" cy="415.87" r="1.6"/><circle cx="506.90" cy="417.24" r="1.6"/></g>
<path d="M118.5,445.8v5.4M118.5,271.1v-5.3M208.1,445.8v5.4M208.1,271.1v-5.3M297.7,445.8v5.4M297.7,271.1v-5.3M387.4,445.8v5.4M387.4,271.1v-5.3M477.0,445.8v5.4M477.0,271.1v-5.3M58.7,445.8h-5.4M506.9,445.8h5.2M58.7,387.6h-5.4M506.9,387.6h5.2M58.7,329.3h-5.4M506.9,329.3h5.2M58.7,271.1h-5.4M506.9,271.1h5.2" stroke="#464646" stroke-width="1.5" fill="none"/>
<text x="37.68" y="451.65" font-size="16.0" fill="#444444" stroke="#444444" stroke-width="0.3" textLength="8.78" lengthAdjust="spacingAndGlyphs">0</text>
<text x="24.01" y="393.42" font-size="16.0" fill="#444444" stroke="#444444" stroke-width="0.3" textLength="20.92" lengthAdjust="spacingAndGlyphs">0.5</text>
<text x="38.64" y="335.18" font-size="16.0" fill="#444444" stroke="#444444" stroke-width="0.3" textLength="5.55" lengthAdjust="spacingAndGlyphs">1</text>
<text x="24.70" y="276.95" font-size="16.0" fill="#444444" stroke="#444444" stroke-width="0.3" textLength="20.00" lengthAdjust="spacingAndGlyphs">1.5</text>
<defs><clipPath id="cp2"><rect x="58.7" y="489.3" width="448.7" height="179.59999999999997"/></clipPath></defs>
<line x1="118.5" y1="492.3" x2="118.5" y2="665.9" stroke="#d8dada" stroke-width="1.1" stroke-dasharray="8.6 4.9" stroke-dashoffset="-2.7"/>
<line x1="208.1" y1="492.3" x2="208.1" y2="665.9" stroke="#d8dada" stroke-width="1.1" stroke-dasharray="8.6 4.9" stroke-dashoffset="-2.7"/>
<line x1="297.7" y1="492.3" x2="297.7" y2="665.9" stroke="#d8dada" stroke-width="1.1" stroke-dasharray="8.6 4.9" stroke-dashoffset="-2.7"/>
<line x1="387.4" y1="492.3" x2="387.4" y2="665.9" stroke="#d8dada" stroke-width="1.1" stroke-dasharray="8.6 4.9" stroke-dashoffset="-2.7"/>
<line x1="477.0" y1="492.3" x2="477.0" y2="665.9" stroke="#d8dada" stroke-width="1.1" stroke-dasharray="8.6 4.9" stroke-dashoffset="-2.7"/>
<line x1="58.7" y1="608.0" x2="506.9" y2="608.0" stroke="#d8dada" stroke-width="1.1" stroke-dasharray="8.65 4.9" stroke-dashoffset="-6"/>
<line x1="58.7" y1="550.2" x2="506.9" y2="550.2" stroke="#d8dada" stroke-width="1.1" stroke-dasharray="8.65 4.9" stroke-dashoffset="-6"/>
<rect x="58.7" y="492.3" width="448.2" height="173.59999999999997" fill="none" stroke="#464646" stroke-width="1.5"/>
<g clip-path="url(#cp2)">
<path d="M58.7,644.24 L59.7,644.17 L60.7,644.10 L61.7,644.05 L62.7,643.99 L63.7,643.94 L64.7,643.90 L65.7,643.85 L66.7,643.82 L67.7,643.78 L68.7,643.75 L69.7,643.73 L70.7,643.70 L71.7,643.68 L72.7,643.66 L73.7,643.64 L74.7,643.63 L75.7,643.62 L76.7,643.61 L77.7,643.60 L78.7,643.59 L79.7,643.59 L80.7,643.58 L81.7,643.58 L82.7,643.57 L83.7,643.57 L84.7,643.57 L85.7,643.56 L86.7,643.56 L87.7,643.56 L88.7,643.55 L89.7,643.55 L90.7,643.54 L91.7,643.53 L92.7,643.53 L93.7,643.51 L94.7,643.50 L95.7,643.49 L96.7,643.47 L97.7,643.45 L98.7,643.43 L99.7,643.41 L100.7,643.38 L101.7,643.35 L102.7,643.32 L103.7,643.28 L104.7,643.24 L105.7,643.19 L106.7,643.14 L107.7,643.09 L108.7,643.03 L109.7,642.96 L110.7,642.90 L111.7,642.82 L112.7,642.74 L113.7,642.66 L114.7,642.57 L115.7,642.47 L116.7,642.37 L117.7,642.26 L118.7,642.14 L119.7,642.02 L120.7,641.89 L121.7,641.75 L122.7,641.60 L123.7,641.45 L124.7,641.29 L125.7,641.12 L126.7,640.95 L127.7,640.76 L128.7,640.57 L129.7,640.36 L130.7,640.15 L131.7,639.93 L132.7,639.70 L133.7,639.46 L134.7,639.21 L135.7,638.95 L136.7,638.68 L137.7,638.40 L138.7,638.11 L139.7,637.81 L140.7,637.50 L141.7,637.17 L142.7,636.84 L143.7,636.50 L144.7,636.14 L145.7,635.77 L146.7,635.40 L147.7,635.01 L148.7,634.61 L149.7,634.19 L150.7,633.77 L151.7,633.33 L152.7,632.88 L153.7,632.42 L154.7,631.95 L155.7,631.46 L156.7,630.96 L157.7,630.45 L158.7,629.93 L159.7,629.40 L160.7,628.86 L161.7,628.31 L162.7,627.75 L163.7,627.18 L164.7,626.61 L165.7,626.04 L166.7,625.46 L167.7,624.87 L168.7,624.28 L169.7,623.69 L170.7,623.10 L171.7,622.50 L172.7,621.91 L173.7,621.31 L174.7,620.71 L175.7,620.11 L176.7,619.51 L177.7,618.91 L178.7,618.31 L179.7,617.71 L180.7,617.10 L181.7,616.50 L182.7,615.89 L183.7,615.29 L184.7,614.68 L185.7,614.07 L186.7,613.47 L187.7,612.86 L188.7,612.25 L189.7,611.65 L190.7,611.04 L191.7,610.43 L192.7,609.83 L193.7,609.22 L194.7,608.62 L195.7,608.01 L196.7,607.41 L197.7,606.80 L198.7,606.20 L199.7,605.60 L200.7,605.00 L201.7,604.40 L202.7,603.80 L203.7,603.20 L204.7,602.61 L205.7,602.01 L206.7,601.42 L207.7,600.83 L208.7,600.24 L209.7,599.66 L210.7,599.08 L211.7,598.51 L212.7,597.95 L213.7,597.39 L214.7,596.85 L215.7,596.31 L216.7,595.79 L217.7,595.28 L218.7,594.78 L219.7,594.30 L220.7,593.84 L221.7,593.39 L222.7,592.95 L223.7,592.53 L224.7,592.12 L225.7,591.72 L226.7,591.34 L227.7,590.98 L228.7,590.62 L229.7,590.28 L230.7,589.95 L231.7,589.63 L232.7,589.33 L233.7,589.04 L234.7,588.76 L235.7,588.49 L236.7,588.23 L237.7,587.98 L238.7,587.74 L239.7,587.51 L240.7,587.30 L241.7,587.09 L242.7,586.89 L243.7,586.70 L244.7,586.52 L245.7,586.35 L246.7,586.19 L247.7,586.03 L248.7,585.88 L249.7,585.74 L250.7,585.61 L251.7,585.49 L252.7,585.37 L253.7,585.26 L254.7,585.15 L255.7,585.06 L256.7,584.96 L257.7,584.88 L258.7,584.79 L259.7,584.72 L260.7,584.65 L261.7,584.58 L262.7,584.51 L263.7,584.46 L264.7,584.40 L265.7,584.35 L266.7,584.30 L267.7,584.25 L268.7,584.21 L269.7,584.17 L270.7,584.13 L271.7,584.10 L272.7,584.06 L273.7,584.03 L274.7,584.00 L275.7,583.97 L276.7,583.94 L277.7,583.91 L278.7,583.88 L279.7,583.85 L280.7,583.82 L281.7,583.79 L282.7,583.76 L283.7,583.73 L284.7,583.69 L285.7,583.66 L286.7,583.62 L287.7,583.59 L288.7,583.55 L289.7,583.51 L290.7,583.48 L291.7,583.44 L292.7,583.40 L293.7,583.36 L294.7,583.32 L295.7,583.28 L296.7,583.24 L297.7,583.20 L298.7,583.16 L299.7,583.12 L300.7,583.09 L301.7,583.05 L302.7,583.01 L303.7,582.97 L304.7,582.93 L305.7,582.89 L306.7,582.85 L307.7,582.81 L308.7,582.77 L309.7,582.73 L310.7,582.70 L311.7,582.66 L312.7,582.62 L313.7,582.59 L314.7,582.55 L315.7,582.52 L316.7,582.49 L317.7,582.45 L318.7,582.42 L319.7,582.39 L320.7,582.36 L321.7,582.33 L322.7,582.31 L323.7,582.28 L324.7,582.26 L325.7,582.23 L326.7,582.21 L327.7,582.19 L328.7,582.17 L329.7,582.16 L330.7,582.14 L331.7,582.13 L332.7,582.11 L333.7,582.10 L334.7,582.09 L335.7,582.09 L336.7,582.08 L337.7,582.08 L338.7,582.08 L339.7,582.08 L340.7,582.08 L341.7,582.09 L342.7,582.10 L343.7,582.11 L344.7,582.12 L345.7,582.13 L346.7,582.15 L347.7,582.17 L348.7,582.19 L349.7,582.22 L350.7,582.24 L351.7,582.27 L352.7,582.31 L353.7,582.34 L354.7,582.38 L355.7,582.42 L356.7,582.47 L357.7,582.51 L358.7,582.56 L359.7,582.62 L360.7,582.67 L361.7,582.73 L362.7,582.80 L363.7,582.86 L364.7,582.93 L365.7,583.01 L366.7,583.09 L367.7,583.17 L368.7,583.25 L369.7,583.34 L370.7,583.43 L371.7,583.53 L372.7,583.63 L373.7,583.73 L374.7,583.84 L375.7,583.95 L376.7,584.06 L377.7,584.18 L378.7,584.31 L379.7,584.43 L380.7,584.57 L381.7,584.70 L382.7,584.84 L383.7,584.99 L384.7,585.14 L385.7,585.29 L386.7,585.45 L387.7,585.62 L388.7,585.78 L389.7,585.96 L390.7,586.14 L391.7,586.32 L392.7,586.51 L393.7,586.70 L394.7,586.90 L395.7,587.10 L396.7,587.31 L397.7,587.52 L398.7,587.74 L399.7,587.96 L400.7,588.19 L401.7,588.42 L402.7,588.66 L403.7,588.91 L404.7,589.16 L405.7,589.42 L406.7,589.68 L407.7,589.95 L408.7,590.22 L409.7,590.50 L410.7,590.78 L411.7,591.07 L412.7,591.37 L413.7,591.67 L414.7,591.97 L415.7,592.28 L416.7,592.60 L417.7,592.92 L418.7,593.24 L419.7,593.57 L420.7,593.90 L421.7,594.23 L422.7,594.57 L423.7,594.92 L424.7,595.27 L425.7,595.62 L426.7,595.97 L427.7,596.33 L428.7,596.69 L429.7,597.06 L430.7,597.42 L431.7,597.79 L432.7,598.17 L433.7,598.54 L434.7,598.92 L435.7,599.30 L436.7,599.69 L437.7,600.07 L438.7,600.46 L439.7,600.85 L440.7,601.25 L441.7,601.64 L442.7,602.03 L443.7,602.43 L444.7,602.83 L445.7,603.23 L446.7,603.63 L447.7,604.04 L448.7,604.44 L449.7,604.84 L450.7,605.25 L451.7,605.65 L452.7,606.06 L453.7,606.47 L454.7,606.87 L455.7,607.28 L456.7,607.69 L457.7,608.10 L458.7,608.50 L459.7,608.91 L460.7,609.32 L461.7,609.73 L462.7,610.13 L463.7,610.54 L464.7,610.94 L465.7,611.35 L466.7,611.75 L467.7,612.16 L468.7,612.56 L469.7,612.96 L470.7,613.37 L471.7,613.77 L472.7,614.17 L473.7,614.56 L474.7,614.96 L475.7,615.36 L476.7,615.76 L477.7,616.15 L478.7,616.54 L479.7,616.93 L480.7,617.32 L481.7,617.71 L482.7,618.10 L483.7,618.49 L484.7,618.87 L485.7,619.25 L486.7,619.63 L487.7,620.01 L488.7,620.39 L489.7,620.76 L490.7,621.14 L491.7,621.51 L492.7,621.87 L493.7,622.24 L494.7,622.60 L495.7,622.97 L496.7,623.33 L497.7,623.68 L498.7,624.04 L499.7,624.39 L500.7,624.74 L501.7,625.08 L502.7,625.43 L503.7,625.77 L504.7,626.10 L505.7,626.44 L506.7,626.77 L507.5,627.03" fill="none" stroke="#9fcc3a" stroke-width="2.7" stroke-linejoin="round"/>
<path d="M58.7,653.44 L59.7,653.54 L60.7,653.63 L61.7,653.72 L62.7,653.81 L63.7,653.89 L64.7,653.97 L65.7,654.05 L66.7,654.12 L67.7,654.19 L68.7,654.25 L69.7,654.31 L70.7,654.37 L71.7,654.42 L72.7,654.47 L73.7,654.51 L74.7,654.55 L75.7,654.59 L76.7,654.62 L77.7,654.65 L78.7,654.67 L79.7,654.69 L80.7,654.71 L81.7,654.72 L82.7,654.73 L83.7,654.74 L84.7,654.74 L85.7,654.73 L86.7,654.73 L87.7,654.71 L88.7,654.70 L89.7,654.68 L90.7,654.65 L91.7,654.62 L92.7,654.59 L93.7,654.56 L94.7,654.52 L95.7,654.47 L96.7,654.42 L97.7,654.37 L98.7,654.31 L99.7,654.25 L100.7,654.18 L101.7,654.11 L102.7,654.04 L103.7,653.96 L104.7,653.88 L105.7,653.79 L106.7,653.70 L107.7,653.60 L108.7,653.51 L109.7,653.40 L110.7,653.29 L111.7,653.18 L112.7,653.06 L113.7,652.94 L114.7,652.82 L115.7,652.69 L116.7,652.55 L117.7,652.41 L118.7,652.27 L119.7,652.12 L120.7,651.97 L121.7,651.81 L122.7,651.65 L123.7,651.49 L124.7,651.32 L125.7,651.14 L126.7,650.96 L127.7,650.78 L128.7,650.59 L129.7,650.40 L130.7,650.20 L131.7,650.00 L132.7,649.80 L133.7,649.59 L134.7,649.37 L135.7,649.16 L136.7,648.93 L137.7,648.71 L138.7,648.48 L139.7,648.24 L140.7,648.00 L141.7,647.76 L142.7,647.52 L143.7,647.27 L144.7,647.02 L145.7,646.77 L146.7,646.51 L147.7,646.25 L148.7,645.99 L149.7,645.72 L150.7,645.45 L151.7,645.19 L152.7,644.91 L153.7,644.64 L154.7,644.36 L155.7,644.09 L156.7,643.81 L157.7,643.53 L158.7,643.24 L159.7,642.96 L160.7,642.68 L161.7,642.39 L162.7,642.10 L163.7,641.82 L164.7,641.53 L165.7,641.24 L166.7,640.95 L167.7,640.66 L168.7,640.37 L169.7,640.08 L170.7,639.79 L171.7,639.49 L172.7,639.20 L173.7,638.91 L174.7,638.62 L175.7,638.34 L176.7,638.05 L177.7,637.76 L178.7,637.47 L179.7,637.19 L180.7,636.90 L181.7,636.62 L182.7,636.34 L183.7,636.05 L184.7,635.78 L185.7,635.50 L186.7,635.22 L187.7,634.95 L188.7,634.67 L189.7,634.40 L190.7,634.14 L191.7,633.87 L192.7,633.60 L193.7,633.34 L194.7,633.08 L195.7,632.82 L196.7,632.57 L197.7,632.31 L198.7,632.06 L199.7,631.82 L200.7,631.57 L201.7,631.33 L202.7,631.09 L203.7,630.85 L204.7,630.62 L205.7,630.39 L206.7,630.16 L207.7,629.93 L208.7,629.71 L209.7,629.49 L210.7,629.28 L211.7,629.07 L212.7,628.86 L213.7,628.66 L214.7,628.46 L215.7,628.26 L216.7,628.07 L217.7,627.88 L218.7,627.69 L219.7,627.51 L220.7,627.33 L221.7,627.16 L222.7,626.99 L223.7,626.83 L224.7,626.67 L225.7,626.51 L226.7,626.36 L227.7,626.22 L228.7,626.07 L229.7,625.94 L230.7,625.81 L231.7,625.68 L232.7,625.56 L233.7,625.44 L234.7,625.33 L235.7,625.22 L236.7,625.12 L237.7,625.02 L238.7,624.92 L239.7,624.83 L240.7,624.75 L241.7,624.67 L242.7,624.59 L243.7,624.52 L244.7,624.45 L245.7,624.39 L246.7,624.33 L247.7,624.27 L248.7,624.22 L249.7,624.17 L250.7,624.12 L251.7,624.08 L252.7,624.04 L253.7,624.00 L254.7,623.97 L255.7,623.94 L256.7,623.92 L257.7,623.89 L258.7,623.87 L259.7,623.86 L260.7,623.84 L261.7,623.83 L262.7,623.82 L263.7,623.82 L264.7,623.81 L265.7,623.81 L266.7,623.81 L267.7,623.81 L268.7,623.82 L269.7,623.83 L270.7,623.84 L271.7,623.85 L272.7,623.86 L273.7,623.88 L274.7,623.89 L275.7,623.91 L276.7,623.93 L277.7,623.95 L278.7,623.98 L279.7,624.00 L280.7,624.03 L281.7,624.05 L282.7,624.08 L283.7,624.11 L284.7,624.14 L285.7,624.17 L286.7,624.20 L287.7,624.23 L288.7,624.27 L289.7,624.30 L290.7,624.33 L291.7,624.37 L292.7,624.40 L293.7,624.44 L294.7,624.47 L295.7,624.51 L296.7,624.54 L297.7,624.58 L298.7,624.61 L299.7,624.65 L300.7,624.68 L301.7,624.72 L302.7,624.75 L303.7,624.78 L304.7,624.82 L305.7,624.85 L306.7,624.88 L307.7,624.91 L308.7,624.94 L309.7,624.97 L310.7,625.00 L311.7,625.03 L312.7,625.05 L313.7,625.08 L314.7,625.11 L315.7,625.13 L316.7,625.16 L317.7,625.18 L318.7,625.21 L319.7,625.23 L320.7,625.26 L321.7,625.28 L322.7,625.30 L323.7,625.33 L324.7,625.35 L325.7,625.38 L326.7,625.40 L327.7,625.42 L328.7,625.45 L329.7,625.47 L330.7,625.49 L331.7,625.52 L332.7,625.54 L333.7,625.57 L334.7,625.59 L335.7,625.62 L336.7,625.64 L337.7,625.67 L338.7,625.69 L339.7,625.72 L340.7,625.75 L341.7,625.78 L342.7,625.81 L343.7,625.83 L344.7,625.86 L345.7,625.89 L346.7,625.93 L347.7,625.96 L348.7,625.99 L349.7,626.02 L350.7,626.06 L351.7,626.09 L352.7,626.13 L353.7,626.17 L354.7,626.21 L355.7,626.25 L356.7,626.29 L357.7,626.33 L358.7,626.37 L359.7,626.42 L360.7,626.46 L361.7,626.51 L362.7,626.56 L363.7,626.61 L364.7,626.66 L365.7,626.71 L366.7,626.77 L367.7,626.82 L368.7,626.88 L369.7,626.94 L370.7,627.00 L371.7,627.06 L372.7,627.13 L373.7,627.19 L374.7,627.26 L375.7,627.33 L376.7,627.40 L377.7,627.48 L378.7,627.55 L379.7,627.63 L380.7,627.71 L381.7,627.79 L382.7,627.87 L383.7,627.96 L384.7,628.05 L385.7,628.14 L386.7,628.23 L387.7,628.32 L388.7,628.42 L389.7,628.52 L390.7,628.62 L391.7,628.73 L392.7,628.84 L393.7,628.94 L394.7,629.06 L395.7,629.17 L396.7,629.29 L397.7,629.41 L398.7,629.53 L399.7,629.66 L400.7,629.79 L401.7,629.92 L402.7,630.05 L403.7,630.19 L404.7,630.33 L405.7,630.47 L406.7,630.62 L407.7,630.77 L408.7,630.92 L409.7,631.08 L410.7,631.23 L411.7,631.40 L412.7,631.56 L413.7,631.73 L414.7,631.89 L415.7,632.07 L416.7,632.24 L417.7,632.42 L418.7,632.59 L419.7,632.77 L420.7,632.96 L421.7,633.14 L422.7,633.33 L423.7,633.52 L424.7,633.71 L425.7,633.90 L426.7,634.09 L427.7,634.29 L428.7,634.49 L429.7,634.69 L430.7,634.89 L431.7,635.09 L432.7,635.29 L433.7,635.49 L434.7,635.70 L435.7,635.90 L436.7,636.11 L437.7,636.32 L438.7,636.53 L439.7,636.73 L440.7,636.94 L441.7,637.15 L442.7,637.37 L443.7,637.58 L444.7,637.79 L445.7,638.00 L446.7,638.21 L447.7,638.42 L448.7,638.64 L449.7,638.85 L450.7,639.06 L451.7,639.27 L452.7,639.48 L453.7,639.70 L454.7,639.91 L455.7,640.12 L456.7,640.33 L457.7,640.54 L458.7,640.75 L459.7,640.95 L460.7,641.16 L461.7,641.37 L462.7,641.57 L463.7,641.78 L464.7,641.98 L465.7,642.18 L466.7,642.38 L467.7,642.58 L468.7,642.78 L469.7,642.98 L470.7,643.17 L471.7,643.36 L472.7,643.55 L473.7,643.74 L474.7,643.93 L475.7,644.12 L476.7,644.30 L477.7,644.48 L478.7,644.66 L479.7,644.84 L480.7,645.02 L481.7,645.19 L482.7,645.36 L483.7,645.53 L484.7,645.69 L485.7,645.85 L486.7,646.01 L487.7,646.17 L488.7,646.32 L489.7,646.47 L490.7,646.62 L491.7,646.77 L492.7,646.91 L493.7,647.05 L494.7,647.18 L495.7,647.31 L496.7,647.44 L497.7,647.57 L498.7,647.69 L499.7,647.80 L500.7,647.92 L501.7,648.03 L502.7,648.13 L503.7,648.23 L504.7,648.33 L505.7,648.42 L506.7,648.51 L507.5,648.58" fill="none" stroke="#1a1a1a" stroke-width="2.7" stroke-linejoin="round"/>
<path d="M58.7,642.52 L59.7,642.55 L60.7,642.58 L61.7,642.61 L62.7,642.64 L63.7,642.67 L64.7,642.70 L65.7,642.72 L66.7,642.75 L67.7,642.78 L68.7,642.80 L69.7,642.83 L70.7,642.85 L71.7,642.87 L72.7,642.89 L73.7,642.91 L74.7,642.93 L75.7,642.95 L76.7,642.96 L77.7,642.97 L78.7,642.98 L79.7,642.99 L80.7,643.00 L81.7,643.00 L82.7,643.00 L83.7,643.00 L84.7,642.99 L85.7,642.99 L86.7,642.98 L87.7,642.96 L88.7,642.95 L89.7,642.93 L90.7,642.90 L91.7,642.88 L92.7,642.85 L93.7,642.81 L94.7,642.77 L95.7,642.73 L96.7,642.68 L97.7,642.63 L98.7,642.58 L99.7,642.52 L100.7,642.45 L101.7,642.38 L102.7,642.31 L103.7,642.23 L104.7,642.15 L105.7,642.06 L106.7,641.97 L107.7,641.87 L108.7,641.76 L109.7,641.65 L110.7,641.53 L111.7,641.41 L112.7,641.28 L113.7,641.15 L114.7,641.01 L115.7,640.86 L116.7,640.71 L117.7,640.55 L118.7,640.38 L119.7,640.21 L120.7,640.03 L121.7,639.84 L122.7,639.65 L123.7,639.45 L124.7,639.24 L125.7,639.02 L126.7,638.80 L127.7,638.56 L128.7,638.33 L129.7,638.08 L130.7,637.82 L131.7,637.56 L132.7,637.29 L133.7,637.01 L134.7,636.72 L135.7,636.42 L136.7,636.11 L137.7,635.80 L138.7,635.48 L139.7,635.14 L140.7,634.80 L141.7,634.45 L142.7,634.09 L143.7,633.72 L144.7,633.34 L145.7,632.95 L146.7,632.55 L147.7,632.14 L148.7,631.72 L149.7,631.29 L150.7,630.86 L151.7,630.41 L152.7,629.96 L153.7,629.49 L154.7,629.02 L155.7,628.54 L156.7,628.06 L157.7,627.56 L158.7,627.06 L159.7,626.55 L160.7,626.03 L161.7,625.51 L162.7,624.98 L163.7,624.44 L164.7,623.89 L165.7,623.34 L166.7,622.79 L167.7,622.23 L168.7,621.66 L169.7,621.08 L170.7,620.51 L171.7,619.92 L172.7,619.33 L173.7,618.74 L174.7,618.14 L175.7,617.54 L176.7,616.94 L177.7,616.33 L178.7,615.72 L179.7,615.11 L180.7,614.50 L181.7,613.88 L182.7,613.26 L183.7,612.64 L184.7,612.02 L185.7,611.40 L186.7,610.78 L187.7,610.15 L188.7,609.53 L189.7,608.91 L190.7,608.28 L191.7,607.66 L192.7,607.04 L193.7,606.42 L194.7,605.81 L195.7,605.19 L196.7,604.58 L197.7,603.97 L198.7,603.36 L199.7,602.76 L200.7,602.15 L201.7,601.56 L202.7,600.96 L203.7,600.37 L204.7,599.79 L205.7,599.21 L206.7,598.63 L207.7,598.06 L208.7,597.50 L209.7,596.94 L210.7,596.39 L211.7,595.85 L212.7,595.31 L213.7,594.78 L214.7,594.25 L215.7,593.74 L216.7,593.23 L217.7,592.73 L218.7,592.24 L219.7,591.76 L220.7,591.28 L221.7,590.82 L222.7,590.37 L223.7,589.92 L224.7,589.49 L225.7,589.07 L226.7,588.65 L227.7,588.25 L228.7,587.86 L229.7,587.48 L230.7,587.12 L231.7,586.76 L232.7,586.42 L233.7,586.09 L234.7,585.78 L235.7,585.47 L236.7,585.18 L237.7,584.89 L238.7,584.62 L239.7,584.36 L240.7,584.12 L241.7,583.88 L242.7,583.65 L243.7,583.43 L244.7,583.22 L245.7,583.03 L246.7,582.84 L247.7,582.66 L248.7,582.49 L249.7,582.33 L250.7,582.18 L251.7,582.03 L252.7,581.90 L253.7,581.77 L254.7,581.65 L255.7,581.54 L256.7,581.43 L257.7,581.34 L258.7,581.24 L259.7,581.16 L260.7,581.08 L261.7,581.01 L262.7,580.95 L263.7,580.89 L264.7,580.84 L265.7,580.79 L266.7,580.75 L267.7,580.71 L268.7,580.68 L269.7,580.65 L270.7,580.63 L271.7,580.61 L272.7,580.59 L273.7,580.58 L274.7,580.57 L275.7,580.57 L276.7,580.57 L277.7,580.57 L278.7,580.57 L279.7,580.58 L280.7,580.59 L281.7,580.60 L282.7,580.61 L283.7,580.62 L284.7,580.64 L285.7,580.66 L286.7,580.68 L287.7,580.70 L288.7,580.72 L289.7,580.74 L290.7,580.77 L291.7,580.79 L292.7,580.82 L293.7,580.85 L294.7,580.88 L295.7,580.91 L296.7,580.94 L297.7,580.97 L298.7,581.00 L299.7,581.03 L300.7,581.07 L301.7,581.10 L302.7,581.14 L303.7,581.17 L304.7,581.21 L305.7,581.24 L306.7,581.28 L307.7,581.32 L308.7,581.35 L309.7,581.39 L310.7,581.43 L311.7,581.46 L312.7,581.50 L313.7,581.54 L314.7,581.57 L315.7,581.61 L316.7,581.64 L317.7,581.68 L318.7,581.71 L319.7,581.75 L320.7,581.78 L321.7,581.81 L322.7,581.84 L323.7,581.87 L324.7,581.90 L325.7,581.93 L326.7,581.96 L327.7,581.99 L328.7,582.01 L329.7,582.04 L330.7,582.06 L331.7,582.08 L332.7,582.10 L333.7,582.12 L334.7,582.14 L335.7,582.16 L336.7,582.17 L337.7,582.19 L338.7,582.20 L339.7,582.22 L340.7,582.23 L341.7,582.24 L342.7,582.26 L343.7,582.27 L344.7,582.28 L345.7,582.30 L346.7,582.31 L347.7,582.33 L348.7,582.34 L349.7,582.36 L350.7,582.38 L351.7,582.40 L352.7,582.42 L353.7,582.44 L354.7,582.47 L355.7,582.49 L356.7,582.52 L357.7,582.55 L358.7,582.58 L359.7,582.62 L360.7,582.66 L361.7,582.70 L362.7,582.74 L363.7,582.78 L364.7,582.83 L365.7,582.89 L366.7,582.94 L367.7,583.00 L368.7,583.06 L369.7,583.13 L370.7,583.20 L371.7,583.28 L372.7,583.35 L373.7,583.44 L374.7,583.53 L375.7,583.62 L376.7,583.72 L377.7,583.82 L378.7,583.93 L379.7,584.04 L380.7,584.16 L381.7,584.28 L382.7,584.41 L383.7,584.55 L384.7,584.69 L385.7,584.83 L386.7,584.99 L387.7,585.15 L388.7,585.31 L389.7,585.49 L390.7,585.67 L391.7,585.85 L392.7,586.04 L393.7,586.24 L394.7,586.45 L395.7,586.66 L396.7,586.87 L397.7,587.09 L398.7,587.32 L399.7,587.55 L400.7,587.79 L401.7,588.03 L402.7,588.28 L403.7,588.53 L404.7,588.79 L405.7,589.05 L406.7,589.32 L407.7,589.60 L408.7,589.87 L409.7,590.16 L410.7,590.44 L411.7,590.74 L412.7,591.03 L413.7,591.33 L414.7,591.64 L415.7,591.95 L416.7,592.26 L417.7,592.58 L418.7,592.90 L419.7,593.22 L420.7,593.55 L421.7,593.88 L422.7,594.22 L423.7,594.56 L424.7,594.90 L425.7,595.25 L426.7,595.60 L427.7,595.95 L428.7,596.31 L429.7,596.66 L430.7,597.03 L431.7,597.39 L432.7,597.76 L433.7,598.13 L434.7,598.50 L435.7,598.87 L436.7,599.25 L437.7,599.63 L438.7,600.01 L439.7,600.40 L440.7,600.78 L441.7,601.17 L442.7,601.56 L443.7,601.95 L444.7,602.34 L445.7,602.74 L446.7,603.13 L447.7,603.53 L448.7,603.93 L449.7,604.33 L450.7,604.73 L451.7,605.13 L452.7,605.54 L453.7,605.94 L454.7,606.35 L455.7,606.75 L456.7,607.16 L457.7,607.57 L458.7,607.97 L459.7,608.38 L460.7,608.79 L461.7,609.20 L462.7,609.61 L463.7,610.02 L464.7,610.43 L465.7,610.84 L466.7,611.24 L467.7,611.65 L468.7,612.06 L469.7,612.47 L470.7,612.88 L471.7,613.28 L472.7,613.69 L473.7,614.09 L474.7,614.50 L475.7,614.90 L476.7,615.30 L477.7,615.71 L478.7,616.11 L479.7,616.50 L480.7,616.90 L481.7,617.30 L482.7,617.69 L483.7,618.09 L484.7,618.48 L485.7,618.87 L486.7,619.25 L487.7,619.64 L488.7,620.02 L489.7,620.40 L490.7,620.78 L491.7,621.16 L492.7,621.53 L493.7,621.91 L494.7,622.28 L495.7,622.64 L496.7,623.01 L497.7,623.37 L498.7,623.73 L499.7,624.08 L500.7,624.43 L501.7,624.78 L502.7,625.13 L503.7,625.47 L504.7,625.81 L505.7,626.14 L506.7,626.48 L507.5,626.74" fill="none" stroke="#1d4fa4" stroke-width="2.8" stroke-dasharray="2.9 2.185"/>
<path d="M58.7,652.33 L59.7,652.27 L60.7,652.22 L61.7,652.17 L62.7,652.13 L63.7,652.09 L64.7,652.05 L65.7,652.02 L66.7,651.99 L67.7,651.96 L68.7,651.93 L69.7,651.91 L70.7,651.89 L71.7,651.88 L72.7,651.86 L73.7,651.85 L74.7,651.84 L75.7,651.83 L76.7,651.82 L77.7,651.81 L78.7,651.81 L79.7,651.80 L80.7,651.80 L81.7,651.79 L82.7,651.79 L83.7,651.79 L84.7,651.78 L85.7,651.78 L86.7,651.78 L87.7,651.77 L88.7,651.77 L89.7,651.76 L90.7,651.75 L91.7,651.74 L92.7,651.73 L93.7,651.72 L94.7,651.71 L95.7,651.69 L96.7,651.67 L97.7,651.65 L98.7,651.63 L99.7,651.60 L100.7,651.57 L101.7,651.54 L102.7,651.50 L103.7,651.46 L104.7,651.42 L105.7,651.37 L106.7,651.32 L107.7,651.27 L108.7,651.21 L109.7,651.15 L110.7,651.08 L111.7,651.00 L112.7,650.92 L113.7,650.84 L114.7,650.75 L115.7,650.65 L116.7,650.55 L117.7,650.45 L118.7,650.33 L119.7,650.21 L120.7,650.09 L121.7,649.95 L122.7,649.81 L123.7,649.66 L124.7,649.51 L125.7,649.35 L126.7,649.18 L127.7,649.00 L128.7,648.81 L129.7,648.62 L130.7,648.42 L131.7,648.21 L132.7,647.99 L133.7,647.76 L134.7,647.52 L135.7,647.28 L136.7,647.02 L137.7,646.76 L138.7,646.49 L139.7,646.22 L140.7,645.94 L141.7,645.65 L142.7,645.35 L143.7,645.05 L144.7,644.75 L145.7,644.43 L146.7,644.12 L147.7,643.79 L148.7,643.46 L149.7,643.13 L150.7,642.79 L151.7,642.45 L152.7,642.11 L153.7,641.76 L154.7,641.40 L155.7,641.05 L156.7,640.69 L157.7,640.32 L158.7,639.96 L159.7,639.59 L160.7,639.22 L161.7,638.85 L162.7,638.48 L163.7,638.10 L164.7,637.73 L165.7,637.35 L166.7,636.97 L167.7,636.59 L168.7,636.22 L169.7,635.84 L170.7,635.46 L171.7,635.08 L172.7,634.71 L173.7,634.33 L174.7,633.96 L175.7,633.58 L176.7,633.21 L177.7,632.84 L178.7,632.48 L179.7,632.11 L180.7,631.75 L181.7,631.39 L182.7,631.03 L183.7,630.68 L184.7,630.33 L185.7,629.99 L186.7,629.64 L187.7,629.30 L188.7,628.97 L189.7,628.64 L190.7,628.31 L191.7,627.98 L192.7,627.66 L193.7,627.34 L194.7,627.03 L195.7,626.72 L196.7,626.41 L197.7,626.11 L198.7,625.81 L199.7,625.51 L200.7,625.22 L201.7,624.93 L202.7,624.65 L203.7,624.37 L204.7,624.10 L205.7,623.83 L206.7,623.56 L207.7,623.30 L208.7,623.04 L209.7,622.79 L210.7,622.54 L211.7,622.30 L212.7,622.06 L213.7,621.83 L214.7,621.60 L215.7,621.37 L216.7,621.15 L217.7,620.94 L218.7,620.73 L219.7,620.52 L220.7,620.32 L221.7,620.13 L222.7,619.94 L223.7,619.75 L224.7,619.57 L225.7,619.40 L226.7,619.23 L227.7,619.06 L228.7,618.91 L229.7,618.75 L230.7,618.61 L231.7,618.46 L232.7,618.33 L233.7,618.20 L234.7,618.07 L235.7,617.95 L236.7,617.83 L237.7,617.72 L238.7,617.62 L239.7,617.52 L240.7,617.42 L241.7,617.33 L242.7,617.25 L243.7,617.17 L244.7,617.09 L245.7,617.02 L246.7,616.95 L247.7,616.88 L248.7,616.82 L249.7,616.77 L250.7,616.72 L251.7,616.67 L252.7,616.62 L253.7,616.58 L254.7,616.54 L255.7,616.51 L256.7,616.48 L257.7,616.45 L258.7,616.43 L259.7,616.41 L260.7,616.39 L261.7,616.37 L262.7,616.36 L263.7,616.35 L264.7,616.34 L265.7,616.34 L266.7,616.34 L267.7,616.34 L268.7,616.34 L269.7,616.34 L270.7,616.35 L271.7,616.36 L272.7,616.37 L273.7,616.38 L274.7,616.40 L275.7,616.41 L276.7,616.43 L277.7,616.45 L278.7,616.47 L279.7,616.49 L280.7,616.51 L281.7,616.53 L282.7,616.56 L283.7,616.58 L284.7,616.61 L285.7,616.63 L286.7,616.66 L287.7,616.69 L288.7,616.71 L289.7,616.74 L290.7,616.77 L291.7,616.80 L292.7,616.83 L293.7,616.86 L294.7,616.88 L295.7,616.91 L296.7,616.94 L297.7,616.97 L298.7,616.99 L299.7,617.02 L300.7,617.04 L301.7,617.07 L302.7,617.09 L303.7,617.11 L304.7,617.13 L305.7,617.15 L306.7,617.17 L307.7,617.19 L308.7,617.21 L309.7,617.22 L310.7,617.24 L311.7,617.25 L312.7,617.26 L313.7,617.27 L314.7,617.28 L315.7,617.29 L316.7,617.30 L317.7,617.31 L318.7,617.32 L319.7,617.32 L320.7,617.33 L321.7,617.34 L322.7,617.34 L323.7,617.35 L324.7,617.35 L325.7,617.36 L326.7,617.36 L327.7,617.37 L328.7,617.37 L329.7,617.38 L330.7,617.38 L331.7,617.39 L332.7,617.39 L333.7,617.40 L334.7,617.41 L335.7,617.41 L336.7,617.42 L337.7,617.43 L338.7,617.44 L339.7,617.44 L340.7,617.45 L341.7,617.46 L342.7,617.47 L343.7,617.49 L344.7,617.50 L345.7,617.51 L346.7,617.53 L347.7,617.55 L348.7,617.56 L349.7,617.58 L350.7,617.60 L351.7,617.62 L352.7,617.65 L353.7,617.67 L354.7,617.70 L355.7,617.72 L356.7,617.75 L357.7,617.78 L358.7,617.82 L359.7,617.85 L360.7,617.89 L361.7,617.93 L362.7,617.97 L363.7,618.01 L364.7,618.06 L365.7,618.10 L366.7,618.15 L367.7,618.20 L368.7,618.26 L369.7,618.32 L370.7,618.37 L371.7,618.44 L372.7,618.50 L373.7,618.57 L374.7,618.64 L375.7,618.71 L376.7,618.79 L377.7,618.87 L378.7,618.95 L379.7,619.03 L380.7,619.12 L381.7,619.21 L382.7,619.31 L383.7,619.40 L384.7,619.50 L385.7,619.61 L386.7,619.72 L387.7,619.83 L388.7,619.94 L389.7,620.06 L390.7,620.18 L391.7,620.31 L392.7,620.44 L393.7,620.57 L394.7,620.71 L395.7,620.85 L396.7,621.00 L397.7,621.15 L398.7,621.31 L399.7,621.46 L400.7,621.63 L401.7,621.80 L402.7,621.97 L403.7,622.14 L404.7,622.33 L405.7,622.51 L406.7,622.70 L407.7,622.90 L408.7,623.10 L409.7,623.30 L410.7,623.51 L411.7,623.72 L412.7,623.94 L413.7,624.16 L414.7,624.38 L415.7,624.60 L416.7,624.83 L417.7,625.06 L418.7,625.30 L419.7,625.53 L420.7,625.77 L421.7,626.01 L422.7,626.25 L423.7,626.49 L424.7,626.73 L425.7,626.98 L426.7,627.22 L427.7,627.47 L428.7,627.71 L429.7,627.96 L430.7,628.20 L431.7,628.45 L432.7,628.69 L433.7,628.93 L434.7,629.18 L435.7,629.42 L436.7,629.66 L437.7,629.90 L438.7,630.14 L439.7,630.38 L440.7,630.62 L441.7,630.86 L442.7,631.10 L443.7,631.33 L444.7,631.57 L445.7,631.81 L446.7,632.04 L447.7,632.28 L448.7,632.51 L449.7,632.75 L450.7,632.98 L451.7,633.22 L452.7,633.45 L453.7,633.68 L454.7,633.92 L455.7,634.15 L456.7,634.38 L457.7,634.62 L458.7,634.85 L459.7,635.08 L460.7,635.31 L461.7,635.54 L462.7,635.77 L463.7,636.00 L464.7,636.23 L465.7,636.46 L466.7,636.68 L467.7,636.91 L468.7,637.14 L469.7,637.36 L470.7,637.58 L471.7,637.81 L472.7,638.03 L473.7,638.25 L474.7,638.46 L475.7,638.68 L476.7,638.90 L477.7,639.11 L478.7,639.32 L479.7,639.53 L480.7,639.74 L481.7,639.95 L482.7,640.15 L483.7,640.36 L484.7,640.56 L485.7,640.76 L486.7,640.95 L487.7,641.15 L488.7,641.34 L489.7,641.53 L490.7,641.72 L491.7,641.91 L492.7,642.09 L493.7,642.27 L494.7,642.45 L495.7,642.62 L496.7,642.79 L497.7,642.96 L498.7,643.13 L499.7,643.30 L500.7,643.46 L501.7,643.61 L502.7,643.77 L503.7,643.92 L504.7,644.07 L505.7,644.21 L506.7,644.35 L507.5,644.47" fill="none" stroke="#1d4fa4" stroke-width="2.7" stroke-dasharray="10.3 10.0"/>
</g>
<g fill="#ea2a26"><circle cx="58.70" cy="637.65" r="1.6"/><circle cx="64.68" cy="637.91" r="1.6"/><circle cx="70.65" cy="638.00" r="1.6"/><circle cx="76.63" cy="637.94" r="1.6"/><circle cx="82.60" cy="637.77" r="1.6"/><circle cx="88.58" cy="637.52" r="1.6"/><circle cx="94.56" cy="637.22" r="1.6"/><circle cx="100.53" cy="636.91" r="1.6"/><circle cx="106.51" cy="636.62" r="1.6"/><circle cx="112.48" cy="636.36" r="1.6"/><circle cx="118.46" cy="636.00" r="1.6"/><circle cx="124.44" cy="635.39" r="1.6"/><circle cx="130.41" cy="634.35" r="1.6"/><circle cx="136.39" cy="632.74" r="1.6"/><circle cx="142.36" cy="630.55" r="1.6"/><circle cx="148.34" cy="627.85" r="1.6"/><circle cx="154.32" cy="624.70" r="1.6"/><circle cx="160.29" cy="621.16" r="1.6"/><circle cx="166.27" cy="617.30" r="1.6"/><circle cx="172.24" cy="613.18" r="1.6"/><circle cx="178.22" cy="608.87" r="1.6"/><circle cx="184.20" cy="604.42" r="1.6"/><circle cx="190.17" cy="599.91" r="1.6"/><circle cx="196.15" cy="595.39" r="1.6"/><circle cx="202.12" cy="590.93" r="1.6"/><circle cx="208.10" cy="586.57" r="1.6"/><circle cx="214.08" cy="582.36" r="1.6"/><circle cx="220.05" cy="578.36" r="1.6"/><circle cx="226.03" cy="574.60" r="1.6"/><circle cx="232.00" cy="571.14" r="1.6"/><circle cx="237.98" cy="568.03" r="1.6"/><circle cx="243.96" cy="565.31" r="1.6"/><circle cx="249.93" cy="563.01" r="1.6"/><circle cx="255.91" cy="561.12" r="1.6"/><circle cx="261.88" cy="559.57" r="1.6"/><circle cx="267.86" cy="558.33" r="1.6"/><circle cx="273.84" cy="557.36" r="1.6"/><circle cx="279.81" cy="556.60" r="1.6"/><circle cx="285.79" cy="556.02" r="1.6"/><circle cx="291.76" cy="555.57" r="1.6"/><circle cx="297.74" cy="555.20" r="1.6"/><circle cx="303.72" cy="554.87" r="1.6"/><circle cx="309.69" cy="554.53" r="1.6"/><circle cx="315.67" cy="554.18" r="1.6"/><circle cx="321.64" cy="553.82" r="1.6"/><circle cx="327.62" cy="553.48" r="1.6"/><circle cx="333.60" cy="553.18" r="1.6"/><circle cx="339.57" cy="552.92" r="1.6"/><circle cx="345.55" cy="552.74" r="1.6"/><circle cx="351.52" cy="552.64" r="1.6"/><circle cx="357.50" cy="552.66" r="1.6"/><circle cx="363.48" cy="552.80" r="1.6"/><circle cx="369.45" cy="553.09" r="1.6"/><circle cx="375.43" cy="553.54" r="1.6"/><circle cx="381.40" cy="554.17" r="1.6"/><circle cx="387.38" cy="555.00" r="1.6"/><circle cx="393.36" cy="556.05" r="1.6"/><circle cx="399.33" cy="557.34" r="1.6"/><circle cx="405.31" cy="558.88" r="1.6"/><circle cx="411.28" cy="560.70" r="1.6"/><circle cx="417.26" cy="562.81" r="1.6"/><circle cx="423.24" cy="565.22" r="1.6"/><circle cx="429.21" cy="567.91" r="1.6"/><circle cx="435.19" cy="570.81" r="1.6"/><circle cx="441.16" cy="573.89" r="1.6"/><circle cx="447.14" cy="577.12" r="1.6"/><circle cx="453.12" cy="580.43" r="1.6"/><circle cx="459.09" cy="583.79" r="1.6"/><circle cx="465.07" cy="587.15" r="1.6"/><circle cx="471.04" cy="590.48" r="1.6"/><circle cx="477.02" cy="593.72" r="1.6"/><circle cx="483.00" cy="596.84" r="1.6"/><circle cx="488.97" cy="599.78" r="1.6"/><circle cx="494.95" cy="602.51" r="1.6"/><circle cx="500.92" cy="604.98" r="1.6"/><circle cx="506.90" cy="607.14" r="1.6"/></g>
<path d="M118.5,665.9v5.4M118.5,492.3v-5.3M208.1,665.9v5.4M208.1,492.3v-5.3M297.7,665.9v5.4M297.7,492.3v-5.3M387.4,665.9v5.4M387.4,492.3v-5.3M477.0,665.9v5.4M477.0,492.3v-5.3M58.7,665.9h-5.4M506.9,665.9h5.2M58.7,608.0h-5.4M506.9,608.0h5.2M58.7,550.2h-5.4M506.9,550.2h5.2M58.7,492.3h-5.4M506.9,492.3h5.2" stroke="#464646" stroke-width="1.5" fill="none"/>
<text x="37.68" y="671.75" font-size="16.0" fill="#444444" stroke="#444444" stroke-width="0.3" textLength="8.78" lengthAdjust="spacingAndGlyphs">0</text>
<text x="24.01" y="613.88" font-size="16.0" fill="#444444" stroke="#444444" stroke-width="0.3" textLength="20.92" lengthAdjust="spacingAndGlyphs">0.5</text>
<text x="38.64" y="556.02" font-size="16.0" fill="#444444" stroke="#444444" stroke-width="0.3" textLength="5.55" lengthAdjust="spacingAndGlyphs">1</text>
<text x="24.70" y="498.15" font-size="16.0" fill="#444444" stroke="#444444" stroke-width="0.3" textLength="20.00" lengthAdjust="spacingAndGlyphs">1.5</text>
<text x="209.05" y="13.80" font-size="17.6" fill="#444444" stroke="#444444" stroke-width="0.3" textLength="120.28" lengthAdjust="spacingAndGlyphs">SSTA s.d. (ICM)</text>
<text x="231.02" y="43.80" font-size="17.8" fill="#1e1e1e" stroke="#1e1e1e" stroke-width="0.4" textLength="87.08" lengthAdjust="spacingAndGlyphs">(a) P1 vs P2</text>
<text x="230.91" y="263.90" font-size="17.8" fill="#1e1e1e" stroke="#1e1e1e" stroke-width="0.4" textLength="87.89" lengthAdjust="spacingAndGlyphs">(b) P2 vs P3</text>
<text x="211.52" y="485.80" font-size="17.8" fill="#1e1e1e" stroke="#1e1e1e" stroke-width="0.4" textLength="85.97" lengthAdjust="spacingAndGlyphs">(c) P2 vs P3</text>
<text x="301.45" y="485.80" font-size="17.8" fill="#1e1e1e" stroke="#1e1e1e" stroke-width="0.4" textLength="17.94" lengthAdjust="spacingAndGlyphs">(N</text>
<text x="318.21" y="477.00" font-size="12.8" fill="#1e1e1e" stroke="#1e1e1e" stroke-width="0.4" textLength="8.79" lengthAdjust="spacingAndGlyphs">2</text>
<text x="327.60" y="485.80" font-size="17.8" fill="#1e1e1e" stroke="#1e1e1e" stroke-width="0.4" textLength="5.78" lengthAdjust="spacingAndGlyphs">)</text>
<text x="95.50" y="692.70" font-size="16.0" fill="#444444" stroke="#444444" stroke-width="0.3" textLength="39.42" lengthAdjust="spacingAndGlyphs">150°E</text>
<text x="190.21" y="692.70" font-size="16.0" fill="#444444" stroke="#444444" stroke-width="0.3" textLength="32.33" lengthAdjust="spacingAndGlyphs">180°</text>
<text x="272.56" y="692.70" font-size="16.0" fill="#444444" stroke="#444444" stroke-width="0.3" textLength="44.99" lengthAdjust="spacingAndGlyphs">150°W</text>
<text x="361.65" y="692.70" font-size="16.0" fill="#444444" stroke="#444444" stroke-width="0.3" textLength="45.60" lengthAdjust="spacingAndGlyphs">120°W</text>
<text x="455.59" y="692.70" font-size="16.0" fill="#444444" stroke="#444444" stroke-width="0.3" textLength="36.96" lengthAdjust="spacingAndGlyphs">90°W</text>
<g transform="translate(11.9,0) rotate(-90)"><text x="-368.54" y="0.00" font-size="17.6" fill="#444444" stroke="#444444" stroke-width="0.3" textLength="15.88" lengthAdjust="spacingAndGlyphs">°C</text></g>
<rect x="517.8" y="110.4" width="140.5" height="113.19999999999999" fill="#fff" stroke="#464646" stroke-width="1.3"/>
<line x1="522.1" y1="121.2" x2="564.5" y2="121.2" stroke="#ae6d2c" stroke-width="2.7"/>
<text x="567.61" y="126.60" font-size="14.8" fill="#1e1e1e" stroke="#1e1e1e" stroke-width="0.35" textLength="43.82" lengthAdjust="spacingAndGlyphs">ICM-P1</text>
<line x1="522.1" y1="139.6" x2="564.5" y2="139.6" stroke="#9fcc3a" stroke-width="2.7"/>
<text x="567.55" y="144.90" font-size="14.8" fill="#1e1e1e" stroke="#1e1e1e" stroke-width="0.35" textLength="45.72" lengthAdjust="spacingAndGlyphs">ICM-P2</text>
<line x1="522.0" y1="160.9" x2="565.2" y2="160.9" stroke="#1d4fa4" stroke-width="2.8" stroke-dasharray="2.9 2.15"/>
<text x="567.61" y="163.60" font-size="14.8" fill="#1e1e1e" stroke="#1e1e1e" stroke-width="0.35" textLength="43.82" lengthAdjust="spacingAndGlyphs">ICM-P1</text>
<text x="612.98" y="165.90" font-size="10.3" fill="#1e1e1e" stroke="#1e1e1e" stroke-width="0.25" textLength="25.43" lengthAdjust="spacingAndGlyphs">P2-N</text>
<text x="638.33" y="159.80" font-size="8.6" fill="#1e1e1e" stroke="#1e1e1e" stroke-width="0.25" textLength="5.25" lengthAdjust="spacingAndGlyphs">2</text>
<line x1="522.0" y1="185.4" x2="565.0" y2="185.4" stroke="#1d4fa4" stroke-width="2.7" stroke-dasharray="10.6 9.6"/>
<text x="567.61" y="188.10" font-size="14.8" fill="#1e1e1e" stroke="#1e1e1e" stroke-width="0.35" textLength="43.82" lengthAdjust="spacingAndGlyphs">ICM-P1</text>
<text x="612.99" y="190.40" font-size="10.3" fill="#1e1e1e" stroke="#1e1e1e" stroke-width="0.25" textLength="25.16" lengthAdjust="spacingAndGlyphs">P2-U</text>
<line x1="528.4" y1="209.6" x2="557.8" y2="209.6" stroke="#ea2a26" stroke-width="3.1" stroke-linecap="round" stroke-dasharray="0 4.87"/>
<text x="567.61" y="211.60" font-size="14.8" fill="#1e1e1e" stroke="#1e1e1e" stroke-width="0.35" textLength="43.82" lengthAdjust="spacingAndGlyphs">ICM-P1</text>
<text x="613.02" y="214.10" font-size="10.3" fill="#1e1e1e" stroke="#1e1e1e" stroke-width="0.25" textLength="29.26" lengthAdjust="spacingAndGlyphs">P2-Te</text>
<rect x="517.8" y="331.2" width="140.5" height="113.30000000000001" fill="#fff" stroke="#464646" stroke-width="1.3"/>
<line x1="522.1" y1="342.5" x2="564.5" y2="342.5" stroke="#9fcc3a" stroke-width="2.7"/>
<text x="567.55" y="347.90" font-size="14.8" fill="#1e1e1e" stroke="#1e1e1e" stroke-width="0.35" textLength="45.83" lengthAdjust="spacingAndGlyphs">ICM-P2</text>
<line x1="522.1" y1="360.4" x2="564.5" y2="360.4" stroke="#1a1a1a" stroke-width="2.7"/>
<text x="567.56" y="365.90" font-size="14.8" fill="#1e1e1e" stroke="#1e1e1e" stroke-width="0.35" textLength="45.53" lengthAdjust="spacingAndGlyphs">ICM-P3</text>
<line x1="522.0" y1="381.8" x2="565.2" y2="381.8" stroke="#1d4fa4" stroke-width="2.8" stroke-dasharray="2.9 2.15"/>
<text x="567.55" y="384.60" font-size="14.8" fill="#1e1e1e" stroke="#1e1e1e" stroke-width="0.35" textLength="45.93" lengthAdjust="spacingAndGlyphs">ICM-P2</text>
<text x="612.97" y="388.70" font-size="10.3" fill="#1e1e1e" stroke="#1e1e1e" stroke-width="0.25" textLength="25.75" lengthAdjust="spacingAndGlyphs">P3-N</text>
<text x="637.77" y="385.10" font-size="8.6" fill="#1e1e1e" stroke="#1e1e1e" stroke-width="0.25" textLength="5.86" lengthAdjust="spacingAndGlyphs">2</text>
<line x1="522.0" y1="406.4" x2="565.0" y2="406.4" stroke="#1d4fa4" stroke-width="2.7" stroke-dasharray="10.6 9.6"/>
<text x="567.55" y="409.10" font-size="14.8" fill="#1e1e1e" stroke="#1e1e1e" stroke-width="0.35" textLength="45.93" lengthAdjust="spacingAndGlyphs">ICM-P2</text>
<text x="612.99" y="412.90" font-size="10.3" fill="#1e1e1e" stroke="#1e1e1e" stroke-width="0.25" textLength="25.37" lengthAdjust="spacingAndGlyphs">P3-U</text>
<line x1="528.4" y1="429.4" x2="557.8" y2="429.4" stroke="#ea2a26" stroke-width="3.1" stroke-linecap="round" stroke-dasharray="0 4.87"/>
<text x="567.55" y="432.10" font-size="14.8" fill="#1e1e1e" stroke="#1e1e1e" stroke-width="0.35" textLength="45.93" lengthAdjust="spacingAndGlyphs">ICM-P2</text>
<text x="613.03" y="436.60" font-size="10.3" fill="#1e1e1e" stroke="#1e1e1e" stroke-width="0.25" textLength="28.94" lengthAdjust="spacingAndGlyphs">P3-Te</text>
<rect x="517.8" y="531.3" width="166.10000000000002" height="133.4000000000001" fill="#fff" stroke="#464646" stroke-width="1.3"/>
<line x1="522.1" y1="541.9" x2="564.5" y2="541.9" stroke="#9fcc3a" stroke-width="2.7"/>
<text x="567.55" y="547.70" font-size="14.8" fill="#1e1e1e" stroke="#1e1e1e" stroke-width="0.35" textLength="45.83" lengthAdjust="spacingAndGlyphs">ICM-P2</text>
<line x1="522.1" y1="560.3" x2="564.5" y2="560.3" stroke="#1a1a1a" stroke-width="2.7"/>
<text x="567.56" y="565.90" font-size="14.8" fill="#1e1e1e" stroke="#1e1e1e" stroke-width="0.35" textLength="45.53" lengthAdjust="spacingAndGlyphs">ICM-P3</text>
<line x1="522.0" y1="585.1" x2="565.2" y2="585.1" stroke="#1d4fa4" stroke-width="2.8" stroke-dasharray="2.9 2.15"/>
<text x="567.55" y="584.50" font-size="14.8" fill="#1e1e1e" stroke="#1e1e1e" stroke-width="0.35" textLength="45.93" lengthAdjust="spacingAndGlyphs">ICM-P2</text>
<text x="614.60" y="588.10" font-size="10.3" fill="#1e1e1e" stroke="#1e1e1e" stroke-width="0.25" textLength="24.99" lengthAdjust="spacingAndGlyphs">P3-N</text>
<text x="638.69" y="581.80" font-size="8.6" fill="#1e1e1e" stroke="#1e1e1e" stroke-width="0.25" textLength="6.71" lengthAdjust="spacingAndGlyphs">2</text>
<text x="639.74" y="595.00" font-size="9.2" fill="#1e1e1e" stroke="#1e1e1e" stroke-width="0.25" textLength="41.76" lengthAdjust="spacingAndGlyphs">mode1+2</text>
<line x1="522.0" y1="616.2" x2="565.0" y2="616.2" stroke="#1d4fa4" stroke-width="2.7" stroke-dasharray="10.6 9.6"/>
<text x="567.55" y="615.70" font-size="14.8" fill="#1e1e1e" stroke="#1e1e1e" stroke-width="0.35" textLength="45.93" lengthAdjust="spacingAndGlyphs">ICM-P2</text>
<text x="612.88" y="619.00" font-size="10.3" fill="#1e1e1e" stroke="#1e1e1e" stroke-width="0.25" textLength="25.43" lengthAdjust="spacingAndGlyphs">P3-N</text>
<text x="637.63" y="613.60" font-size="8.6" fill="#1e1e1e" stroke="#1e1e1e" stroke-width="0.25" textLength="6.35" lengthAdjust="spacingAndGlyphs">2</text>
<text x="638.39" y="626.40" font-size="9.2" fill="#1e1e1e" stroke="#1e1e1e" stroke-width="0.25" textLength="28.16" lengthAdjust="spacingAndGlyphs">mode1</text>
<line x1="528.4" y1="642.2" x2="557.8" y2="642.2" stroke="#ea2a26" stroke-width="3.1" stroke-linecap="round" stroke-dasharray="0 4.87"/>
<text x="567.55" y="646.00" font-size="14.8" fill="#1e1e1e" stroke="#1e1e1e" stroke-width="0.35" textLength="45.93" lengthAdjust="spacingAndGlyphs">ICM-P2</text>
<text x="612.88" y="649.30" font-size="10.3" fill="#1e1e1e" stroke="#1e1e1e" stroke-width="0.25" textLength="25.43" lengthAdjust="spacingAndGlyphs">P3-N</text>
<text x="637.63" y="643.90" font-size="8.6" fill="#1e1e1e" stroke="#1e1e1e" stroke-width="0.25" textLength="6.35" lengthAdjust="spacingAndGlyphs">2</text>
<text x="638.37" y="656.70" font-size="9.2" fill="#1e1e1e" stroke="#1e1e1e" stroke-width="0.25" textLength="28.90" lengthAdjust="spacingAndGlyphs">mode2</text>
</svg></body></html>
